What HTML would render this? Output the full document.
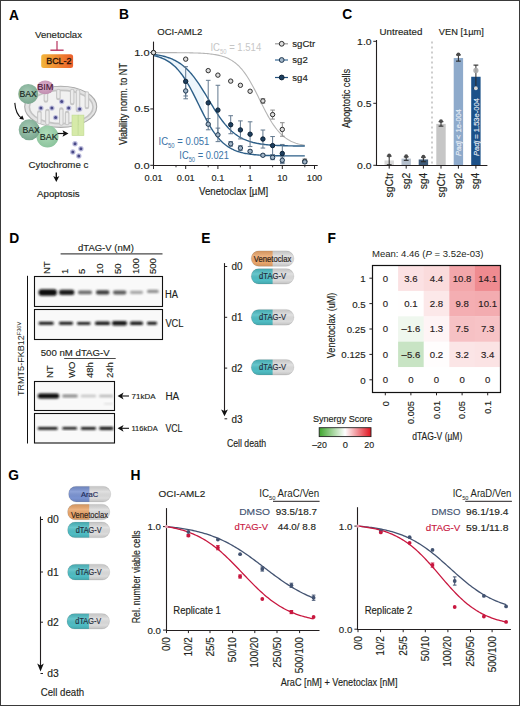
<!DOCTYPE html>
<html><head><meta charset="utf-8"><style>
html,body{margin:0;padding:0;background:#fff;}
body{width:520px;height:706px;overflow:hidden;position:relative;}
svg{position:absolute;left:0;top:0;font-family:"Liberation Sans", sans-serif;}
.frame{position:absolute;left:0;top:0;width:518px;height:704px;border:1px solid #3a3a3a;}
</style></head><body>
<svg width="520" height="706" viewBox="0 0 520 706">
<defs>
<linearGradient id="gBcl" x1="0" y1="0" x2="1" y2="0"><stop offset="0" stop-color="#f3b53a"/><stop offset="1" stop-color="#ec5f2c"/></linearGradient>
<radialGradient id="gBax" cx="0.45" cy="0.4" r="0.6"><stop offset="0" stop-color="#a4c9b4"/><stop offset="1" stop-color="#7ba890"/></radialGradient>
<radialGradient id="gBak" cx="0.45" cy="0.4" r="0.6"><stop offset="0" stop-color="#b0dcba"/><stop offset="1" stop-color="#8cc49d"/></radialGradient>
<radialGradient id="gBim" cx="0.45" cy="0.4" r="0.6"><stop offset="0" stop-color="#dcb0cc"/><stop offset="1" stop-color="#c08eb0"/></radialGradient>
<linearGradient id="gSyn" x1="0" y1="0" x2="1" y2="0"><stop offset="0" stop-color="#3ea52d"/><stop offset="0.5" stop-color="#ffffff"/><stop offset="1" stop-color="#e0121f"/></linearGradient>
<linearGradient id="capShade" x1="0" y1="0" x2="0" y2="1"><stop offset="0" stop-color="#000" stop-opacity="0.10"/><stop offset="0.35" stop-color="#fff" stop-opacity="0.15"/><stop offset="0.75" stop-color="#000" stop-opacity="0"/><stop offset="1" stop-color="#000" stop-opacity="0.12"/></linearGradient>
</defs>
<text x="9.00" y="19.60" font-size="13.8" fill="#000" font-weight="bold">A</text>
<text x="119.00" y="19.00" font-size="13.8" fill="#000" font-weight="bold">B</text>
<text x="342.20" y="19.20" font-size="13.8" fill="#000" font-weight="bold">C</text>
<text x="9.30" y="242.70" font-size="13.8" fill="#000" font-weight="bold">D</text>
<text x="201.30" y="243.00" font-size="13.8" fill="#000" font-weight="bold">E</text>
<text x="327.50" y="242.50" font-size="13.8" fill="#000" font-weight="bold">F</text>
<text x="8.30" y="479.60" font-size="13.8" fill="#000" font-weight="bold">G</text>
<text x="130.60" y="480.00" font-size="13.8" fill="#000" font-weight="bold">H</text>
<text x="35.00" y="37.80" font-size="9.6" fill="#231f20" stroke="#231f20" stroke-width="0.15" textLength="47" lengthAdjust="spacingAndGlyphs">Venetoclax</text>
<line x1="57.00" y1="41.00" x2="57.00" y2="50.20" stroke="#b8325e" stroke-width="1.2"/>
<line x1="50.40" y1="50.20" x2="63.60" y2="50.20" stroke="#b8325e" stroke-width="1.4"/>
<rect x="41.20" y="54.20" width="31.90" height="13.80" fill="url(#gBcl)" rx="2.5"/>
<text x="46.20" y="64.40" font-size="9.7" fill="#2a1408" stroke="#2a1408" stroke-width="0.15" textLength="25.3" lengthAdjust="spacingAndGlyphs" stroke-opacity="1" style="stroke-width:0.35px">BCL-2</text>
<ellipse cx="60.7" cy="106.8" rx="36" ry="20.6" fill="#e3e3e3" stroke="#a9a9a9" stroke-width="1.1"/>
<ellipse cx="61.2" cy="107" rx="31.8" ry="16.6" fill="#f1f1f1" stroke="#c4c4c4" stroke-width="1.6"/>
<line x1="45.90" y1="91.50" x2="45.90" y2="100.50" stroke="#c6c6c6" stroke-width="4.6" stroke-linecap="round"/>
<line x1="45.90" y1="91.50" x2="45.90" y2="99.50" stroke="#ebebeb" stroke-width="2.4" stroke-linecap="round"/>
<line x1="58.40" y1="91.00" x2="58.40" y2="98.00" stroke="#c6c6c6" stroke-width="4.6" stroke-linecap="round"/>
<line x1="58.40" y1="91.00" x2="58.40" y2="97.00" stroke="#ebebeb" stroke-width="2.4" stroke-linecap="round"/>
<line x1="72.20" y1="91.00" x2="72.20" y2="103.00" stroke="#c6c6c6" stroke-width="4.6" stroke-linecap="round"/>
<line x1="72.20" y1="91.00" x2="72.20" y2="102.00" stroke="#ebebeb" stroke-width="2.4" stroke-linecap="round"/>
<line x1="78.00" y1="91.50" x2="78.00" y2="110.00" stroke="#c6c6c6" stroke-width="4.6" stroke-linecap="round"/>
<line x1="78.00" y1="91.50" x2="78.00" y2="109.00" stroke="#ebebeb" stroke-width="2.4" stroke-linecap="round"/>
<line x1="86.90" y1="93.50" x2="86.90" y2="107.00" stroke="#c6c6c6" stroke-width="4.6" stroke-linecap="round"/>
<line x1="86.90" y1="93.50" x2="86.90" y2="106.00" stroke="#ebebeb" stroke-width="2.4" stroke-linecap="round"/>
<line x1="39.40" y1="112.50" x2="39.40" y2="122.00" stroke="#c6c6c6" stroke-width="4.6" stroke-linecap="round"/>
<line x1="39.40" y1="113.50" x2="39.40" y2="122.00" stroke="#ebebeb" stroke-width="2.4" stroke-linecap="round"/>
<line x1="47.40" y1="111.00" x2="47.40" y2="123.00" stroke="#c6c6c6" stroke-width="4.6" stroke-linecap="round"/>
<line x1="47.40" y1="112.00" x2="47.40" y2="123.00" stroke="#ebebeb" stroke-width="2.4" stroke-linecap="round"/>
<line x1="61.30" y1="109.60" x2="61.30" y2="123.50" stroke="#c6c6c6" stroke-width="4.6" stroke-linecap="round"/>
<line x1="61.30" y1="110.60" x2="61.30" y2="123.50" stroke="#ebebeb" stroke-width="2.4" stroke-linecap="round"/>
<line x1="67.10" y1="113.00" x2="67.10" y2="123.00" stroke="#c6c6c6" stroke-width="4.6" stroke-linecap="round"/>
<line x1="67.10" y1="114.00" x2="67.10" y2="123.00" stroke="#ebebeb" stroke-width="2.4" stroke-linecap="round"/>
<circle cx="40.90" cy="108.10" r="2.7" fill="#bcbcdc"/>
<circle cx="40.90" cy="108.10" r="1.5" fill="#4a4a88"/>
<circle cx="51.90" cy="108.10" r="2.7" fill="#bcbcdc"/>
<circle cx="51.90" cy="108.10" r="1.5" fill="#4a4a88"/>
<circle cx="61.70" cy="101.60" r="2.7" fill="#bcbcdc"/>
<circle cx="61.70" cy="101.60" r="1.5" fill="#4a4a88"/>
<circle cx="68.70" cy="108.10" r="2.7" fill="#bcbcdc"/>
<circle cx="68.70" cy="108.10" r="1.5" fill="#4a4a88"/>
<circle cx="79.70" cy="109.10" r="2.7" fill="#bcbcdc"/>
<circle cx="79.70" cy="109.10" r="1.5" fill="#4a4a88"/>
<circle cx="55.60" cy="117.60" r="2.7" fill="#bcbcdc"/>
<circle cx="55.60" cy="117.60" r="1.5" fill="#4a4a88"/>
<circle cx="75.00" cy="143.80" r="2.7" fill="#bcbcdc"/>
<circle cx="75.00" cy="143.80" r="1.5" fill="#4a4a88"/>
<circle cx="80.90" cy="148.70" r="2.7" fill="#bcbcdc"/>
<circle cx="80.90" cy="148.70" r="1.5" fill="#4a4a88"/>
<circle cx="72.80" cy="152.00" r="2.7" fill="#bcbcdc"/>
<circle cx="72.80" cy="152.00" r="1.5" fill="#4a4a88"/>
<circle cx="78.80" cy="156.00" r="2.7" fill="#bcbcdc"/>
<circle cx="78.80" cy="156.00" r="1.5" fill="#4a4a88"/>
<rect x="72.00" y="115.10" width="6.00" height="20.50" fill="#d6eaa9" stroke="#bfd98f" stroke-width="0.6"/>
<rect x="78.30" y="115.10" width="5.60" height="20.50" fill="#d6eaa9" stroke="#bfd98f" stroke-width="0.6"/>
<circle cx="28.20" cy="93.90" r="10" fill="url(#gBax)"/>
<ellipse cx="45.3" cy="87.4" rx="8.4" ry="6.8" fill="url(#gBim)"/>
<text x="19.60" y="97.10" font-size="9.5" fill="#17261d" stroke="#17261d" stroke-width="0.15" textLength="17.3" lengthAdjust="spacingAndGlyphs">BAX</text>
<text x="37.20" y="90.30" font-size="9.5" fill="#4a1838" stroke="#4a1838" stroke-width="0.15" textLength="16.3" lengthAdjust="spacingAndGlyphs">BIM</text>
<circle cx="47.50" cy="136.50" r="11" fill="url(#gBak)"/>
<circle cx="29.20" cy="129.80" r="10.5" fill="url(#gBax)"/>
<text x="22.50" y="132.70" font-size="9.5" fill="#17261d" stroke="#17261d" stroke-width="0.15" textLength="17.3" lengthAdjust="spacingAndGlyphs">BAX</text>
<text x="39.80" y="140.40" font-size="9.5" fill="#17261d" stroke="#17261d" stroke-width="0.15" textLength="17.9" lengthAdjust="spacingAndGlyphs">BAK</text>
<path d="M14.8,102.9 Q15.6,114.5 22,118.5" fill="none" stroke="#111" stroke-width="1.1"/>
<path d="M24,119.8 L19.2,118.8 L22.4,115.6 Z" fill="#111"/>
<line x1="57.50" y1="133.50" x2="64.00" y2="133.50" stroke="#111" stroke-width="1.2"/>
<path d="M68.5,133.5 L62.5,130.2 L63.8,133.5 L62.5,136.8 Z" fill="#111"/>
<text x="28.60" y="167.70" font-size="9.6" fill="#231f20" stroke="#231f20" stroke-width="0.15" textLength="59.7" lengthAdjust="spacingAndGlyphs">Cytochrome c</text>
<line x1="56.30" y1="172.50" x2="56.30" y2="178.00" stroke="#111" stroke-width="1.4"/>
<path d="M56.3,182 L53.2,176 L56.3,177.4 L59.4,176 Z" fill="#111"/>
<text x="37.00" y="196.60" font-size="9.6" fill="#231f20" stroke="#231f20" stroke-width="0.15" textLength="42.7" lengthAdjust="spacingAndGlyphs">Apoptosis</text>
<text x="157.30" y="34.60" font-size="9.5" fill="#231f20" stroke="#231f20" stroke-width="0.15" textLength="45.1" lengthAdjust="spacingAndGlyphs">OCI-AML2</text>
<path d="M153.50,54.40 L154.76,54.57 L156.02,54.75 L157.28,54.94 L158.54,55.16 L159.80,55.39 L161.07,55.65 L162.33,55.93 L163.59,56.23 L164.85,56.55 L166.11,56.91 L167.37,57.30 L168.63,57.72 L169.89,58.17 L171.15,58.66 L172.41,59.19 L173.67,59.77 L174.94,60.39 L176.20,61.06 L177.46,61.77 L178.72,62.55 L179.98,63.38 L181.24,64.27 L182.50,65.22 L183.76,66.24 L185.02,67.32 L186.28,68.48 L187.54,69.70 L188.80,71.00 L190.07,72.37 L191.33,73.81 L192.59,75.32 L193.85,76.91 L195.11,78.57 L196.37,80.29 L197.63,82.08 L198.89,83.93 L200.15,85.84 L201.41,87.79 L202.67,89.79 L203.94,91.83 L203.94,115.13 L202.67,112.65 L201.41,110.14 L200.15,107.60 L198.89,105.04 L197.63,102.48 L196.37,99.93 L195.11,97.40 L193.85,94.90 L192.59,92.44 L191.33,90.04 L190.07,87.71 L188.80,85.45 L187.54,83.27 L186.28,81.17 L185.02,79.17 L183.76,77.26 L182.50,75.44 L181.24,73.73 L179.98,72.11 L178.72,70.59 L177.46,69.16 L176.20,67.83 L174.94,66.59 L173.67,65.43 L172.41,64.36 L171.15,63.36 L169.89,62.44 L168.63,61.59 L167.37,60.81 L166.11,60.09 L164.85,59.43 L163.59,58.83 L162.33,58.27 L161.07,57.76 L159.80,57.30 L158.54,56.87 L157.28,56.48 L156.02,56.13 L154.76,55.81 L153.50,55.51 Z" fill="#eef6fc"/>
<path d="M153.50,52.61 L154.76,52.61 L156.02,52.61 L157.28,52.61 L158.54,52.62 L159.80,52.62 L161.07,52.62 L162.33,52.62 L163.59,52.62 L164.85,52.63 L166.11,52.63 L167.37,52.63 L168.63,52.64 L169.89,52.64 L171.15,52.65 L172.41,52.65 L173.67,52.66 L174.94,52.67 L176.20,52.67 L177.46,52.68 L178.72,52.69 L179.98,52.70 L181.24,52.71 L182.50,52.72 L183.76,52.74 L185.02,52.75 L186.28,52.77 L187.54,52.79 L188.80,52.81 L190.07,52.84 L191.33,52.87 L192.59,52.90 L193.85,52.93 L195.11,52.97 L196.37,53.01 L197.63,53.05 L198.89,53.11 L200.15,53.16 L201.41,53.23 L202.67,53.30 L203.94,53.38 L205.20,53.47 L206.46,53.56 L207.72,53.67 L208.98,53.79 L210.24,53.93 L211.50,54.08 L212.76,54.24 L214.02,54.43 L215.28,54.63 L216.54,54.86 L217.81,55.11 L219.07,55.39 L220.33,55.70 L221.59,56.04 L222.85,56.42 L224.11,56.83 L225.37,57.29 L226.63,57.80 L227.89,58.36 L229.15,58.97 L230.41,59.64 L231.68,60.38 L232.94,61.19 L234.20,62.07 L235.46,63.04 L236.72,64.08 L237.98,65.22 L239.24,66.45 L240.50,67.78 L241.76,69.21 L243.02,70.75 L244.28,72.39 L245.54,74.13 L246.81,75.99 L248.07,77.94 L249.33,80.00 L250.59,82.16 L251.85,84.40 L253.11,86.72 L254.37,89.12 L255.63,91.57 L256.89,94.07 L258.15,96.61 L259.41,99.17 L260.68,101.73 L261.94,104.27 L263.20,106.80 L264.46,109.28 L265.72,111.72 L266.98,114.08 L268.24,116.38 L269.50,118.58 L270.76,120.70 L272.02,122.72 L273.28,124.63 L274.55,126.44 L275.81,128.15 L277.07,129.75 L278.33,131.24 L279.59,132.63 L280.85,133.92 L282.11,135.11 L283.37,136.21 L284.63,137.23 L285.89,138.16 L287.15,139.01 L288.42,139.79 L289.68,140.50 L290.94,141.15 L292.20,141.74 L293.46,142.28 L294.72,142.77 L295.98,143.21 L297.24,143.61 L298.50,143.97 L299.76,144.30 L301.02,144.59 L302.29,144.86 L303.55,145.10 L304.81,145.32" fill="none" stroke="#b5b5b5" stroke-width="1.1"/>
<path d="M153.50,54.40 L154.76,54.57 L156.02,54.75 L157.28,54.94 L158.54,55.16 L159.80,55.39 L161.07,55.65 L162.33,55.93 L163.59,56.23 L164.85,56.55 L166.11,56.91 L167.37,57.30 L168.63,57.72 L169.89,58.17 L171.15,58.66 L172.41,59.19 L173.67,59.77 L174.94,60.39 L176.20,61.06 L177.46,61.77 L178.72,62.55 L179.98,63.38 L181.24,64.27 L182.50,65.22 L183.76,66.24 L185.02,67.32 L186.28,68.48 L187.54,69.70 L188.80,71.00 L190.07,72.37 L191.33,73.81 L192.59,75.32 L193.85,76.91 L195.11,78.57 L196.37,80.29 L197.63,82.08 L198.89,83.93 L200.15,85.84 L201.41,87.79 L202.67,89.79 L203.94,91.83 L205.20,93.90 L206.46,95.99 L207.72,98.09 L208.98,100.20 L210.24,102.30 L211.50,104.40 L212.76,106.47 L214.02,108.51 L215.28,110.52 L216.54,112.49 L217.81,114.41 L219.07,116.27 L220.33,118.07 L221.59,119.81 L222.85,121.48 L224.11,123.08 L225.37,124.61 L226.63,126.07 L227.89,127.46 L229.15,128.77 L230.41,130.01 L231.68,131.18 L232.94,132.28 L234.20,133.31 L235.46,134.27 L236.72,135.18 L237.98,136.02 L239.24,136.81 L240.50,137.54 L241.76,138.21 L243.02,138.85 L244.28,139.43 L245.54,139.97 L246.81,140.47 L248.07,140.93 L249.33,141.36 L250.59,141.75 L251.85,142.11 L253.11,142.45 L254.37,142.75 L255.63,143.04 L256.89,143.30 L258.15,143.53 L259.41,143.75 L260.68,143.95 L261.94,144.14 L263.20,144.31 L264.46,144.46 L265.72,144.61 L266.98,144.74 L268.24,144.86 L269.50,144.96 L270.76,145.06 L272.02,145.16 L273.28,145.24 L274.55,145.32 L275.81,145.39 L277.07,145.45 L278.33,145.51 L279.59,145.57 L280.85,145.61 L282.11,145.66 L283.37,145.70 L284.63,145.74 L285.89,145.77 L287.15,145.81 L288.42,145.83 L289.68,145.86 L290.94,145.88 L292.20,145.91 L293.46,145.93 L294.72,145.95 L295.98,145.96 L297.24,145.98 L298.50,145.99 L299.76,146.00 L301.02,146.02 L302.29,146.03 L303.55,146.04 L304.81,146.05" fill="none" stroke="#2d5f88" stroke-width="1.4"/>
<path d="M153.50,55.51 L154.76,55.81 L156.02,56.13 L157.28,56.48 L158.54,56.87 L159.80,57.30 L161.07,57.76 L162.33,58.27 L163.59,58.83 L164.85,59.43 L166.11,60.09 L167.37,60.81 L168.63,61.59 L169.89,62.44 L171.15,63.36 L172.41,64.36 L173.67,65.43 L174.94,66.59 L176.20,67.83 L177.46,69.16 L178.72,70.59 L179.98,72.11 L181.24,73.73 L182.50,75.44 L183.76,77.26 L185.02,79.17 L186.28,81.17 L187.54,83.27 L188.80,85.45 L190.07,87.71 L191.33,90.04 L192.59,92.44 L193.85,94.90 L195.11,97.40 L196.37,99.93 L197.63,102.48 L198.89,105.04 L200.15,107.60 L201.41,110.14 L202.67,112.65 L203.94,115.13 L205.20,117.55 L206.46,119.91 L207.72,122.20 L208.98,124.42 L210.24,126.55 L211.50,128.59 L212.76,130.54 L214.02,132.39 L215.28,134.14 L216.54,135.80 L217.81,137.36 L219.07,138.83 L220.33,140.20 L221.59,141.47 L222.85,142.67 L224.11,143.77 L225.37,144.80 L226.63,145.75 L227.89,146.62 L229.15,147.43 L230.41,148.17 L231.68,148.86 L232.94,149.48 L234.20,150.06 L235.46,150.59 L236.72,151.07 L237.98,151.51 L239.24,151.91 L240.50,152.28 L241.76,152.61 L243.02,152.92 L244.28,153.20 L245.54,153.45 L246.81,153.68 L248.07,153.89 L249.33,154.08 L250.59,154.25 L251.85,154.41 L253.11,154.55 L254.37,154.68 L255.63,154.80 L256.89,154.91 L258.15,155.01 L259.41,155.09 L260.68,155.17 L261.94,155.25 L263.20,155.31 L264.46,155.37 L265.72,155.43 L266.98,155.47 L268.24,155.52 L269.50,155.56 L270.76,155.60 L272.02,155.63 L273.28,155.66 L274.55,155.69 L275.81,155.71 L277.07,155.73 L278.33,155.75 L279.59,155.77 L280.85,155.79 L282.11,155.80 L283.37,155.82 L284.63,155.83 L285.89,155.84 L287.15,155.85 L288.42,155.86 L289.68,155.87 L290.94,155.87 L292.20,155.88 L293.46,155.89 L294.72,155.89 L295.98,155.90 L297.24,155.90 L298.50,155.91 L299.76,155.91 L301.02,155.91 L302.29,155.92 L303.55,155.92 L304.81,155.92" fill="none" stroke="#2d5f88" stroke-width="1.4"/>
<line x1="153.50" y1="41.60" x2="153.50" y2="166.00" stroke="#231f20" stroke-width="1.1"/>
<line x1="153.00" y1="165.50" x2="317.70" y2="165.50" stroke="#231f20" stroke-width="1.1"/>
<line x1="150.30" y1="52.60" x2="153.90" y2="52.60" stroke="#231f20" stroke-width="1"/>
<text x="149.60" y="56.00" font-size="9.5" fill="#231f20" stroke="#231f20" stroke-width="0.15" text-anchor="end" textLength="15.4" lengthAdjust="spacingAndGlyphs">1.0</text>
<line x1="150.30" y1="108.95" x2="153.90" y2="108.95" stroke="#231f20" stroke-width="1"/>
<text x="149.60" y="112.35" font-size="9.5" fill="#231f20" stroke="#231f20" stroke-width="0.15" text-anchor="end" textLength="15.4" lengthAdjust="spacingAndGlyphs">0.5</text>
<line x1="150.30" y1="165.30" x2="153.90" y2="165.30" stroke="#231f20" stroke-width="1"/>
<text x="149.60" y="168.70" font-size="9.5" fill="#231f20" stroke="#231f20" stroke-width="0.15" text-anchor="end" textLength="15.4" lengthAdjust="spacingAndGlyphs">0.0</text>
<line x1="153.50" y1="165.30" x2="153.50" y2="169.00" stroke="#231f20" stroke-width="1"/>
<text x="153.50" y="180.60" font-size="9.2" fill="#231f20" stroke="#231f20" stroke-width="0.15" text-anchor="middle">0.01</text>
<line x1="176.01" y1="165.30" x2="176.01" y2="167.30" stroke="#231f20" stroke-width="0.9"/>
<line x1="185.70" y1="165.30" x2="185.70" y2="169.00" stroke="#231f20" stroke-width="1"/>
<text x="185.70" y="180.60" font-size="9.2" fill="#231f20" stroke="#231f20" stroke-width="0.15" text-anchor="middle">0.01</text>
<line x1="208.21" y1="165.30" x2="208.21" y2="167.30" stroke="#231f20" stroke-width="0.9"/>
<line x1="217.90" y1="165.30" x2="217.90" y2="169.00" stroke="#231f20" stroke-width="1"/>
<text x="217.90" y="180.60" font-size="9.2" fill="#231f20" stroke="#231f20" stroke-width="0.15" text-anchor="middle">0.1</text>
<line x1="240.41" y1="165.30" x2="240.41" y2="167.30" stroke="#231f20" stroke-width="0.9"/>
<line x1="250.10" y1="165.30" x2="250.10" y2="169.00" stroke="#231f20" stroke-width="1"/>
<text x="250.10" y="180.60" font-size="9.2" fill="#231f20" stroke="#231f20" stroke-width="0.15" text-anchor="middle">1</text>
<line x1="272.61" y1="165.30" x2="272.61" y2="167.30" stroke="#231f20" stroke-width="0.9"/>
<line x1="282.30" y1="165.30" x2="282.30" y2="169.00" stroke="#231f20" stroke-width="1"/>
<text x="282.30" y="180.60" font-size="9.2" fill="#231f20" stroke="#231f20" stroke-width="0.15" text-anchor="middle">10</text>
<line x1="304.81" y1="165.30" x2="304.81" y2="167.30" stroke="#231f20" stroke-width="0.9"/>
<line x1="314.50" y1="165.30" x2="314.50" y2="169.00" stroke="#231f20" stroke-width="1"/>
<text x="314.50" y="180.60" font-size="9.2" fill="#231f20" stroke="#231f20" stroke-width="0.15" text-anchor="middle">100</text>
<text x="199.00" y="195.20" font-size="10.2" fill="#231f20" stroke="#231f20" stroke-width="0.15" textLength="69.2" lengthAdjust="spacingAndGlyphs">Venetoclax [µM]</text>
<text x="127.40" y="145.00" font-size="10.2" fill="#231f20" stroke="#231f20" stroke-width="0.15" textLength="82" lengthAdjust="spacingAndGlyphs" transform="rotate(-90 127.40 145.00)">Viability norm. to NT</text>
<line x1="185.70" y1="66.69" x2="185.70" y2="95.99" stroke="#62788e" stroke-width="1"/>
<line x1="183.40" y1="66.69" x2="188.00" y2="66.69" stroke="#62788e" stroke-width="1"/>
<line x1="183.40" y1="95.99" x2="188.00" y2="95.99" stroke="#62788e" stroke-width="1"/>
<line x1="185.70" y1="83.03" x2="185.70" y2="98.81" stroke="#62788e" stroke-width="1"/>
<line x1="183.40" y1="83.03" x2="188.00" y2="83.03" stroke="#62788e" stroke-width="1"/>
<line x1="183.40" y1="98.81" x2="188.00" y2="98.81" stroke="#62788e" stroke-width="1"/>
<line x1="208.21" y1="80.32" x2="208.21" y2="125.40" stroke="#62788e" stroke-width="1"/>
<line x1="205.91" y1="80.32" x2="210.51" y2="80.32" stroke="#62788e" stroke-width="1"/>
<line x1="205.91" y1="125.40" x2="210.51" y2="125.40" stroke="#62788e" stroke-width="1"/>
<line x1="208.21" y1="118.53" x2="208.21" y2="129.80" stroke="#62788e" stroke-width="1"/>
<line x1="205.91" y1="118.53" x2="210.51" y2="118.53" stroke="#62788e" stroke-width="1"/>
<line x1="205.91" y1="129.80" x2="210.51" y2="129.80" stroke="#62788e" stroke-width="1"/>
<line x1="217.90" y1="85.28" x2="217.90" y2="134.87" stroke="#62788e" stroke-width="1"/>
<line x1="215.60" y1="85.28" x2="220.20" y2="85.28" stroke="#62788e" stroke-width="1"/>
<line x1="215.60" y1="134.87" x2="220.20" y2="134.87" stroke="#62788e" stroke-width="1"/>
<line x1="217.90" y1="128.11" x2="217.90" y2="141.63" stroke="#62788e" stroke-width="1"/>
<line x1="215.60" y1="128.11" x2="220.20" y2="128.11" stroke="#62788e" stroke-width="1"/>
<line x1="215.60" y1="141.63" x2="220.20" y2="141.63" stroke="#62788e" stroke-width="1"/>
<line x1="230.71" y1="115.71" x2="230.71" y2="133.74" stroke="#62788e" stroke-width="1"/>
<line x1="228.41" y1="115.71" x2="233.01" y2="115.71" stroke="#62788e" stroke-width="1"/>
<line x1="228.41" y1="133.74" x2="233.01" y2="133.74" stroke="#62788e" stroke-width="1"/>
<line x1="230.71" y1="141.63" x2="230.71" y2="146.14" stroke="#62788e" stroke-width="1"/>
<line x1="228.41" y1="141.63" x2="233.01" y2="141.63" stroke="#62788e" stroke-width="1"/>
<line x1="228.41" y1="146.14" x2="233.01" y2="146.14" stroke="#62788e" stroke-width="1"/>
<line x1="240.41" y1="120.90" x2="240.41" y2="138.93" stroke="#62788e" stroke-width="1"/>
<line x1="238.11" y1="120.90" x2="242.71" y2="120.90" stroke="#62788e" stroke-width="1"/>
<line x1="238.11" y1="138.93" x2="242.71" y2="138.93" stroke="#62788e" stroke-width="1"/>
<line x1="240.41" y1="145.80" x2="240.41" y2="150.31" stroke="#62788e" stroke-width="1"/>
<line x1="238.11" y1="145.80" x2="242.71" y2="145.80" stroke="#62788e" stroke-width="1"/>
<line x1="238.11" y1="150.31" x2="242.71" y2="150.31" stroke="#62788e" stroke-width="1"/>
<line x1="250.10" y1="121.80" x2="250.10" y2="146.59" stroke="#62788e" stroke-width="1"/>
<line x1="247.80" y1="121.80" x2="252.40" y2="121.80" stroke="#62788e" stroke-width="1"/>
<line x1="247.80" y1="146.59" x2="252.40" y2="146.59" stroke="#62788e" stroke-width="1"/>
<line x1="250.10" y1="150.20" x2="250.10" y2="152.45" stroke="#62788e" stroke-width="1"/>
<line x1="247.80" y1="150.20" x2="252.40" y2="150.20" stroke="#62788e" stroke-width="1"/>
<line x1="247.80" y1="152.45" x2="252.40" y2="152.45" stroke="#62788e" stroke-width="1"/>
<line x1="262.91" y1="98.69" x2="262.91" y2="103.20" stroke="#8a8a8a" stroke-width="1"/>
<line x1="260.61" y1="98.69" x2="265.21" y2="98.69" stroke="#8a8a8a" stroke-width="1"/>
<line x1="260.61" y1="103.20" x2="265.21" y2="103.20" stroke="#8a8a8a" stroke-width="1"/>
<line x1="262.91" y1="130.02" x2="262.91" y2="148.06" stroke="#62788e" stroke-width="1"/>
<line x1="260.61" y1="130.02" x2="265.21" y2="130.02" stroke="#62788e" stroke-width="1"/>
<line x1="260.61" y1="148.06" x2="265.21" y2="148.06" stroke="#62788e" stroke-width="1"/>
<line x1="262.91" y1="154.14" x2="262.91" y2="156.40" stroke="#62788e" stroke-width="1"/>
<line x1="260.61" y1="154.14" x2="265.21" y2="154.14" stroke="#62788e" stroke-width="1"/>
<line x1="260.61" y1="156.40" x2="265.21" y2="156.40" stroke="#62788e" stroke-width="1"/>
<line x1="272.61" y1="110.08" x2="272.61" y2="119.09" stroke="#8a8a8a" stroke-width="1"/>
<line x1="270.31" y1="110.08" x2="274.91" y2="110.08" stroke="#8a8a8a" stroke-width="1"/>
<line x1="270.31" y1="119.09" x2="274.91" y2="119.09" stroke="#8a8a8a" stroke-width="1"/>
<line x1="272.61" y1="136.56" x2="272.61" y2="154.59" stroke="#62788e" stroke-width="1"/>
<line x1="270.31" y1="136.56" x2="274.91" y2="136.56" stroke="#62788e" stroke-width="1"/>
<line x1="270.31" y1="154.59" x2="274.91" y2="154.59" stroke="#62788e" stroke-width="1"/>
<line x1="272.61" y1="155.16" x2="272.61" y2="159.66" stroke="#62788e" stroke-width="1"/>
<line x1="270.31" y1="155.16" x2="274.91" y2="155.16" stroke="#62788e" stroke-width="1"/>
<line x1="270.31" y1="159.66" x2="274.91" y2="159.66" stroke="#62788e" stroke-width="1"/>
<line x1="282.30" y1="122.70" x2="282.30" y2="136.22" stroke="#8a8a8a" stroke-width="1"/>
<line x1="280.00" y1="122.70" x2="284.60" y2="122.70" stroke="#8a8a8a" stroke-width="1"/>
<line x1="280.00" y1="136.22" x2="284.60" y2="136.22" stroke="#8a8a8a" stroke-width="1"/>
<line x1="282.30" y1="144.45" x2="282.30" y2="162.48" stroke="#62788e" stroke-width="1"/>
<line x1="280.00" y1="144.45" x2="284.60" y2="144.45" stroke="#62788e" stroke-width="1"/>
<line x1="280.00" y1="162.48" x2="284.60" y2="162.48" stroke="#62788e" stroke-width="1"/>
<line x1="282.30" y1="156.85" x2="282.30" y2="163.61" stroke="#62788e" stroke-width="1"/>
<line x1="280.00" y1="156.85" x2="284.60" y2="156.85" stroke="#62788e" stroke-width="1"/>
<line x1="280.00" y1="163.61" x2="284.60" y2="163.61" stroke="#62788e" stroke-width="1"/>
<line x1="304.81" y1="158.99" x2="304.81" y2="163.50" stroke="#8a8a8a" stroke-width="1"/>
<line x1="302.51" y1="158.99" x2="307.11" y2="158.99" stroke="#8a8a8a" stroke-width="1"/>
<line x1="302.51" y1="163.50" x2="307.11" y2="163.50" stroke="#8a8a8a" stroke-width="1"/>
<line x1="304.81" y1="160.79" x2="304.81" y2="163.05" stroke="#62788e" stroke-width="1"/>
<line x1="302.51" y1="160.79" x2="307.11" y2="160.79" stroke="#62788e" stroke-width="1"/>
<line x1="302.51" y1="163.05" x2="307.11" y2="163.05" stroke="#62788e" stroke-width="1"/>
<circle cx="153.50" cy="52.60" r="2.2" fill="#dedede" stroke="#2e2e2e" stroke-width="1"/>
<circle cx="185.70" cy="59.14" r="2.2" fill="#dedede" stroke="#2e2e2e" stroke-width="1"/>
<circle cx="208.21" cy="70.63" r="2.2" fill="#dedede" stroke="#2e2e2e" stroke-width="1"/>
<circle cx="217.90" cy="75.14" r="2.2" fill="#dedede" stroke="#2e2e2e" stroke-width="1"/>
<circle cx="230.71" cy="81.11" r="2.2" fill="#dedede" stroke="#2e2e2e" stroke-width="1"/>
<circle cx="240.41" cy="85.28" r="2.2" fill="#dedede" stroke="#2e2e2e" stroke-width="1"/>
<circle cx="250.10" cy="91.26" r="2.2" fill="#dedede" stroke="#2e2e2e" stroke-width="1"/>
<circle cx="262.91" cy="100.95" r="2.2" fill="#dedede" stroke="#2e2e2e" stroke-width="1"/>
<circle cx="272.61" cy="114.59" r="2.2" fill="#dedede" stroke="#2e2e2e" stroke-width="1"/>
<circle cx="282.30" cy="129.46" r="2.2" fill="#dedede" stroke="#2e2e2e" stroke-width="1"/>
<circle cx="304.81" cy="161.24" r="2.2" fill="#dedede" stroke="#2e2e2e" stroke-width="1"/>
<circle cx="185.70" cy="90.92" r="2.2" fill="#a3b6c8" stroke="#1f3850" stroke-width="1"/>
<circle cx="185.70" cy="81.34" r="2.2" fill="#1d3f5f" stroke="#0e2236" stroke-width="1"/>
<circle cx="208.21" cy="124.16" r="2.2" fill="#a3b6c8" stroke="#1f3850" stroke-width="1"/>
<circle cx="208.21" cy="102.86" r="2.2" fill="#1d3f5f" stroke="#0e2236" stroke-width="1"/>
<circle cx="217.90" cy="134.87" r="2.2" fill="#a3b6c8" stroke="#1f3850" stroke-width="1"/>
<circle cx="217.90" cy="110.08" r="2.2" fill="#1d3f5f" stroke="#0e2236" stroke-width="1"/>
<circle cx="230.71" cy="143.89" r="2.2" fill="#a3b6c8" stroke="#1f3850" stroke-width="1"/>
<circle cx="230.71" cy="124.73" r="2.2" fill="#1d3f5f" stroke="#0e2236" stroke-width="1"/>
<circle cx="240.41" cy="148.06" r="2.2" fill="#a3b6c8" stroke="#1f3850" stroke-width="1"/>
<circle cx="240.41" cy="129.91" r="2.2" fill="#1d3f5f" stroke="#0e2236" stroke-width="1"/>
<circle cx="250.10" cy="151.33" r="2.2" fill="#a3b6c8" stroke="#1f3850" stroke-width="1"/>
<circle cx="250.10" cy="134.19" r="2.2" fill="#1d3f5f" stroke="#0e2236" stroke-width="1"/>
<circle cx="262.91" cy="155.27" r="2.2" fill="#a3b6c8" stroke="#1f3850" stroke-width="1"/>
<circle cx="262.91" cy="139.04" r="2.2" fill="#1d3f5f" stroke="#0e2236" stroke-width="1"/>
<circle cx="272.61" cy="157.41" r="2.2" fill="#a3b6c8" stroke="#1f3850" stroke-width="1"/>
<circle cx="272.61" cy="145.58" r="2.2" fill="#1d3f5f" stroke="#0e2236" stroke-width="1"/>
<circle cx="282.30" cy="160.23" r="2.2" fill="#a3b6c8" stroke="#1f3850" stroke-width="1"/>
<circle cx="282.30" cy="153.47" r="2.2" fill="#1d3f5f" stroke="#0e2236" stroke-width="1"/>
<circle cx="304.81" cy="161.92" r="2.2" fill="#a3b6c8" stroke="#1f3850" stroke-width="1"/>
<circle cx="153.50" cy="52.60" r="2.2" fill="#dedede" stroke="#2e2e2e" stroke-width="1"/>
<line x1="275.00" y1="43.80" x2="288.00" y2="43.80" stroke="#9a9a9a" stroke-width="1.2"/>
<circle cx="281.70" cy="43.80" r="2.4" fill="#dedede" stroke="#2e2e2e" stroke-width="1"/>
<text x="292.30" y="47.20" font-size="9.6" fill="#231f20" stroke="#231f20" stroke-width="0.15">sgCtr</text>
<line x1="275.00" y1="60.00" x2="288.00" y2="60.00" stroke="#3a6a95" stroke-width="1.2"/>
<circle cx="281.70" cy="60.00" r="2.4" fill="#a3b6c8" stroke="#1f3850" stroke-width="1"/>
<text x="292.30" y="63.40" font-size="9.6" fill="#231f20" stroke="#231f20" stroke-width="0.15">sg2</text>
<line x1="275.00" y1="77.50" x2="288.00" y2="77.50" stroke="#24527e" stroke-width="1.2"/>
<circle cx="281.70" cy="77.50" r="2.4" fill="#1d3f5f" stroke="#0e2236" stroke-width="1"/>
<text x="292.30" y="80.90" font-size="9.6" fill="#231f20" stroke="#231f20" stroke-width="0.15">sg4</text>
<text x="210.4" y="51" font-size="10.3" fill="#c6c6c6" textLength="50.8" lengthAdjust="spacingAndGlyphs">IC<tspan font-size="6.4" dy="2.5">50</tspan><tspan dy="-2.5"> = 1.514</tspan></text>
<text x="158.5" y="145.2" font-size="10.3" fill="#3a73a6" textLength="50.8" lengthAdjust="spacingAndGlyphs">IC<tspan font-size="6.4" dy="2.5">50</tspan><tspan dy="-2.5"> = 0.051</tspan></text>
<text x="179.3" y="159.1" font-size="10.3" fill="#3a73a6" textLength="49.7" lengthAdjust="spacingAndGlyphs">IC<tspan font-size="6.4" dy="2.5">50</tspan><tspan dy="-2.5"> = 0.021</tspan></text>
<text x="379.60" y="34.60" font-size="9.6" fill="#231f20" stroke="#231f20" stroke-width="0.15" textLength="42.7" lengthAdjust="spacingAndGlyphs">Untreated</text>
<text x="438.80" y="35.00" font-size="9.5" fill="#231f20" stroke="#231f20" stroke-width="0.15" textLength="45" lengthAdjust="spacingAndGlyphs">VEN [1µm]</text>
<line x1="432.00" y1="41.50" x2="432.00" y2="165.00" stroke="#a5a5a5" stroke-width="1.1" stroke-dasharray="2 3"/>
<rect x="384.50" y="160.46" width="9.40" height="4.84" fill="#d9d9d9"/>
<rect x="401.50" y="158.60" width="9.40" height="6.70" fill="#b3becb"/>
<rect x="418.70" y="159.47" width="9.40" height="5.83" fill="#3f5b79"/>
<rect x="436.30" y="123.88" width="9.40" height="41.42" fill="#c6c6c6"/>
<rect x="453.70" y="58.04" width="9.40" height="107.26" fill="#8eaacb"/>
<rect x="471.20" y="76.76" width="9.40" height="88.54" fill="#1c5189"/>
<line x1="389.20" y1="156.12" x2="389.20" y2="164.80" stroke="#2a2a2a" stroke-width="1"/>
<line x1="386.80" y1="156.12" x2="391.60" y2="156.12" stroke="#2a2a2a" stroke-width="1.1"/>
<line x1="386.80" y1="164.80" x2="391.60" y2="164.80" stroke="#2a2a2a" stroke-width="1.1"/>
<circle cx="389.20" cy="155.52" r="1.9" fill="#4a4a4a"/>
<line x1="406.20" y1="156.87" x2="406.20" y2="160.34" stroke="#2a2a2a" stroke-width="1"/>
<line x1="403.80" y1="156.87" x2="408.60" y2="156.87" stroke="#2a2a2a" stroke-width="1.1"/>
<line x1="403.80" y1="160.34" x2="408.60" y2="160.34" stroke="#2a2a2a" stroke-width="1.1"/>
<circle cx="406.20" cy="156.27" r="1.9" fill="#4a4a4a"/>
<line x1="423.40" y1="157.24" x2="423.40" y2="161.70" stroke="#2a2a2a" stroke-width="1"/>
<line x1="421.00" y1="157.24" x2="425.80" y2="157.24" stroke="#2a2a2a" stroke-width="1.1"/>
<line x1="421.00" y1="161.70" x2="425.80" y2="161.70" stroke="#2a2a2a" stroke-width="1.1"/>
<circle cx="423.40" cy="156.64" r="1.9" fill="#4a4a4a"/>
<line x1="441.00" y1="121.65" x2="441.00" y2="126.12" stroke="#2a2a2a" stroke-width="1"/>
<line x1="438.60" y1="121.65" x2="443.40" y2="121.65" stroke="#2a2a2a" stroke-width="1.1"/>
<line x1="438.60" y1="126.12" x2="443.40" y2="126.12" stroke="#2a2a2a" stroke-width="1.1"/>
<circle cx="441.00" cy="121.05" r="1.9" fill="#4a4a4a"/>
<line x1="458.40" y1="54.94" x2="458.40" y2="61.14" stroke="#2a2a2a" stroke-width="1"/>
<line x1="456.00" y1="54.94" x2="460.80" y2="54.94" stroke="#2a2a2a" stroke-width="1.1"/>
<line x1="456.00" y1="61.14" x2="460.80" y2="61.14" stroke="#2a2a2a" stroke-width="1.1"/>
<circle cx="458.40" cy="54.34" r="1.9" fill="#4a4a4a"/>
<line x1="475.90" y1="65.11" x2="475.90" y2="88.42" stroke="#2a2a2a" stroke-width="1"/>
<line x1="473.50" y1="65.11" x2="478.30" y2="65.11" stroke="#2a2a2a" stroke-width="1.1"/>
<line x1="473.50" y1="88.42" x2="478.30" y2="88.42" stroke="#2a2a2a" stroke-width="1.1"/>
<circle cx="475.90" cy="88.26" r="1.9" fill="#d8d8d8"/>
<circle cx="475.90" cy="70.46" r="2.6" fill="#a8a8a8" opacity="0.9"/>
<line x1="376.50" y1="40.00" x2="376.50" y2="166.00" stroke="#231f20" stroke-width="1.1"/>
<line x1="376.00" y1="165.50" x2="487.40" y2="165.50" stroke="#231f20" stroke-width="1.1"/>
<line x1="373.30" y1="41.30" x2="377.00" y2="41.30" stroke="#231f20" stroke-width="1"/>
<text x="371.60" y="44.70" font-size="9.5" fill="#231f20" stroke="#231f20" stroke-width="0.15" text-anchor="end" textLength="14.5" lengthAdjust="spacingAndGlyphs">1.0</text>
<line x1="373.30" y1="103.30" x2="377.00" y2="103.30" stroke="#231f20" stroke-width="1"/>
<text x="371.60" y="106.70" font-size="9.5" fill="#231f20" stroke="#231f20" stroke-width="0.15" text-anchor="end" textLength="14.5" lengthAdjust="spacingAndGlyphs">0.5</text>
<line x1="373.30" y1="165.30" x2="377.00" y2="165.30" stroke="#231f20" stroke-width="1"/>
<text x="371.60" y="168.70" font-size="9.5" fill="#231f20" stroke="#231f20" stroke-width="0.15" text-anchor="end" textLength="14.5" lengthAdjust="spacingAndGlyphs">0.0</text>
<line x1="389.20" y1="165.30" x2="389.20" y2="168.60" stroke="#231f20" stroke-width="1"/>
<text x="392.80" y="172.60" font-size="10.4" fill="#231f20" stroke="#231f20" stroke-width="0.15" text-anchor="end" transform="rotate(-90 392.80 172.60)">sgCtr</text>
<line x1="406.20" y1="165.30" x2="406.20" y2="168.60" stroke="#231f20" stroke-width="1"/>
<text x="409.80" y="172.60" font-size="10.4" fill="#231f20" stroke="#231f20" stroke-width="0.15" text-anchor="end" transform="rotate(-90 409.80 172.60)">sg2</text>
<line x1="423.40" y1="165.30" x2="423.40" y2="168.60" stroke="#231f20" stroke-width="1"/>
<text x="427.00" y="172.60" font-size="10.4" fill="#231f20" stroke="#231f20" stroke-width="0.15" text-anchor="end" transform="rotate(-90 427.00 172.60)">sg4</text>
<line x1="441.00" y1="165.30" x2="441.00" y2="168.60" stroke="#231f20" stroke-width="1"/>
<text x="444.60" y="172.60" font-size="10.4" fill="#231f20" stroke="#231f20" stroke-width="0.15" text-anchor="end" transform="rotate(-90 444.60 172.60)">sgCtr</text>
<line x1="458.40" y1="165.30" x2="458.40" y2="168.60" stroke="#231f20" stroke-width="1"/>
<text x="462.00" y="172.60" font-size="10.4" fill="#231f20" stroke="#231f20" stroke-width="0.15" text-anchor="end" transform="rotate(-90 462.00 172.60)">sg2</text>
<line x1="475.90" y1="165.30" x2="475.90" y2="168.60" stroke="#231f20" stroke-width="1"/>
<text x="479.50" y="172.60" font-size="10.4" fill="#231f20" stroke="#231f20" stroke-width="0.15" text-anchor="end" transform="rotate(-90 479.50 172.60)">sg4</text>
<text x="349.90" y="128.00" font-size="10.2" fill="#231f20" stroke="#231f20" stroke-width="0.15" textLength="59.2" lengthAdjust="spacingAndGlyphs" transform="rotate(-90 349.90 128.00)">Apoptotic cells</text>
<text x="461.30" y="156.00" font-size="7.3" fill="#e6edf5" stroke="#e6edf5" stroke-width="0.15" textLength="47" lengthAdjust="spacingAndGlyphs" transform="rotate(-90 461.30 156.00)"><tspan font-style="italic">Padj</tspan> &lt; 1e-004</text>
<text x="478.80" y="156.00" font-size="7.3" fill="#e6edf5" stroke="#e6edf5" stroke-width="0.15" textLength="58" lengthAdjust="spacingAndGlyphs" transform="rotate(-90 478.80 156.00)"><tspan font-style="italic">Padj</tspan> = 1.53e-004</text>
<filter id="blur1" x="-20%" y="-50%" width="140%" height="200%"><feGaussianBlur stdDeviation="0.85"/></filter>
<text x="78.00" y="251.30" font-size="9.6" fill="#231f20" stroke="#231f20" stroke-width="0.15" textLength="55.8" lengthAdjust="spacingAndGlyphs">dTAG-V (nM)</text>
<line x1="60.60" y1="253.90" x2="162.50" y2="253.90" stroke="#4a4a4a" stroke-width="1.1"/>
<text x="49.60" y="274.00" font-size="9.5" fill="#231f20" stroke="#231f20" stroke-width="0.15" transform="rotate(-90 49.60 274.00)">NT</text>
<text x="67.60" y="274.00" font-size="9.5" fill="#231f20" stroke="#231f20" stroke-width="0.15" transform="rotate(-90 67.60 274.00)">1</text>
<text x="85.40" y="274.00" font-size="9.5" fill="#231f20" stroke="#231f20" stroke-width="0.15" transform="rotate(-90 85.40 274.00)">5</text>
<text x="103.40" y="274.00" font-size="9.5" fill="#231f20" stroke="#231f20" stroke-width="0.15" transform="rotate(-90 103.40 274.00)">10</text>
<text x="120.90" y="274.00" font-size="9.5" fill="#231f20" stroke="#231f20" stroke-width="0.15" transform="rotate(-90 120.90 274.00)">50</text>
<text x="138.90" y="274.00" font-size="9.5" fill="#231f20" stroke="#231f20" stroke-width="0.15" transform="rotate(-90 138.90 274.00)">100</text>
<text x="156.40" y="274.00" font-size="9.5" fill="#231f20" stroke="#231f20" stroke-width="0.15" transform="rotate(-90 156.40 274.00)">500</text>
<rect x="34.50" y="276.50" width="128.00" height="30.00" fill="#f9f9f9" stroke="#111" stroke-width="1.1"/>
<rect x="34.50" y="309.50" width="128.00" height="30.00" fill="#f9f9f9" stroke="#111" stroke-width="1.1"/>
<rect x="38.60" y="289.15" width="18.30" height="6.50" rx="2.93" fill="#0a0a0a" opacity="1" filter="url(#blur1)"/>
<rect x="59.00" y="289.70" width="15.40" height="5.40" rx="2.43" fill="#1c1c1c" opacity="1" filter="url(#blur1)"/>
<rect x="78.00" y="290.60" width="14.00" height="3.60" rx="1.62" fill="#6a6a6a" opacity="1" filter="url(#blur1)"/>
<rect x="96.00" y="290.30" width="13.40" height="4.20" rx="1.89" fill="#3c3c3c" opacity="1" filter="url(#blur1)"/>
<rect x="113.00" y="290.40" width="13.40" height="4.00" rx="1.80" fill="#5a5a5a" opacity="1" filter="url(#blur1)"/>
<rect x="130.00" y="290.80" width="13.00" height="3.20" rx="1.44" fill="#a5a5a5" opacity="1" filter="url(#blur1)"/>
<rect x="147.00" y="289.70" width="11.70" height="3.40" rx="1.53" fill="#8e8e8e" opacity="1" filter="url(#blur1)"/>
<rect x="38.60" y="321.85" width="15.10" height="2.90" rx="1.30" fill="#141414" opacity="1" filter="url(#blur1)"/>
<rect x="59.00" y="321.85" width="14.00" height="2.90" rx="1.30" fill="#141414" opacity="1" filter="url(#blur1)"/>
<rect x="77.00" y="321.90" width="13.50" height="2.80" rx="1.26" fill="#141414" opacity="1" filter="url(#blur1)"/>
<rect x="95.00" y="321.60" width="15.00" height="3.40" rx="1.53" fill="#141414" opacity="1" filter="url(#blur1)"/>
<rect x="112.00" y="321.10" width="15.00" height="4.40" rx="1.98" fill="#141414" opacity="1" filter="url(#blur1)"/>
<rect x="130.00" y="321.60" width="13.00" height="3.40" rx="1.53" fill="#141414" opacity="1" filter="url(#blur1)"/>
<rect x="147.00" y="321.80" width="10.00" height="3.00" rx="1.35" fill="#141414" opacity="1" filter="url(#blur1)"/>
<text x="165.00" y="298.00" font-size="10" fill="#231f20" stroke="#231f20" stroke-width="0.15" textLength="13" lengthAdjust="spacingAndGlyphs">HA</text>
<text x="165.40" y="326.80" font-size="10" fill="#231f20" stroke="#231f20" stroke-width="0.15" textLength="18" lengthAdjust="spacingAndGlyphs">VCL</text>
<text x="40.70" y="355.70" font-size="9.6" fill="#231f20" stroke="#231f20" stroke-width="0.15" textLength="69" lengthAdjust="spacingAndGlyphs">500 nM dTAG-V</text>
<line x1="64.20" y1="358.50" x2="115.70" y2="358.50" stroke="#4a4a4a" stroke-width="1.1"/>
<text x="53.10" y="378.00" font-size="9.5" fill="#231f20" stroke="#231f20" stroke-width="0.15" transform="rotate(-90 53.10 378.00)">NT</text>
<text x="74.60" y="378.00" font-size="9.5" fill="#231f20" stroke="#231f20" stroke-width="0.15" transform="rotate(-90 74.60 378.00)">WO</text>
<text x="93.00" y="378.00" font-size="9.5" fill="#231f20" stroke="#231f20" stroke-width="0.15" transform="rotate(-90 93.00 378.00)">48h</text>
<text x="112.60" y="378.00" font-size="9.5" fill="#231f20" stroke="#231f20" stroke-width="0.15" transform="rotate(-90 112.60 378.00)">24h</text>
<rect x="34.50" y="381.50" width="80.00" height="29.00" fill="#f9f9f9" stroke="#111" stroke-width="1.1"/>
<rect x="34.50" y="413.50" width="80.00" height="29.50" fill="#f9f9f9" stroke="#111" stroke-width="1.1"/>
<rect x="37.70" y="393.40" width="21.50" height="5.20" rx="2.34" fill="#0c0c0c" opacity="1" filter="url(#blur1)"/>
<rect x="62.30" y="394.50" width="15.40" height="3.00" rx="1.35" fill="#8a8a8a" opacity="1" filter="url(#blur1)"/>
<rect x="80.80" y="394.70" width="15.20" height="2.60" rx="1.17" fill="#c4c4c4" opacity="1" filter="url(#blur1)"/>
<rect x="99.20" y="394.70" width="13.80" height="2.60" rx="1.17" fill="#b8b8b8" opacity="1" filter="url(#blur1)"/>
<rect x="104.00" y="402.90" width="9.00" height="1.60" rx="0.72" fill="#dcdcdc" opacity="1" filter="url(#blur1)"/>
<rect x="37.70" y="426.90" width="20.00" height="2.80" rx="1.26" fill="#161616" opacity="1" filter="url(#blur1)"/>
<rect x="62.30" y="427.00" width="14.70" height="2.60" rx="1.17" fill="#161616" opacity="1" filter="url(#blur1)"/>
<rect x="80.80" y="426.90" width="15.20" height="2.80" rx="1.26" fill="#161616" opacity="1" filter="url(#blur1)"/>
<rect x="99.20" y="426.65" width="14.30" height="3.30" rx="1.48" fill="#161616" opacity="1" filter="url(#blur1)"/>
<line x1="120.00" y1="396.00" x2="129.00" y2="396.00" stroke="#111" stroke-width="1.1"/>
<path d="M117.6,396 L123.6,392.6 L122,396 L123.6,399.4 Z" fill="#111"/>
<line x1="120.00" y1="428.30" x2="129.00" y2="428.30" stroke="#111" stroke-width="1.1"/>
<path d="M117.6,428.3 L123.6,424.90000000000003 L122,428.3 L123.6,431.7 Z" fill="#111"/>
<text x="131.50" y="398.80" font-size="7.6" fill="#231f20" stroke="#231f20" stroke-width="0.15" textLength="24" lengthAdjust="spacingAndGlyphs">71kDA</text>
<text x="131.50" y="431.10" font-size="7.6" fill="#231f20" stroke="#231f20" stroke-width="0.15" textLength="26.2" lengthAdjust="spacingAndGlyphs">116kDA</text>
<text x="165.40" y="399.60" font-size="10" fill="#231f20" stroke="#231f20" stroke-width="0.15" textLength="13.8" lengthAdjust="spacingAndGlyphs">HA</text>
<text x="165.40" y="431.90" font-size="10" fill="#231f20" stroke="#231f20" stroke-width="0.15" textLength="17" lengthAdjust="spacingAndGlyphs">VCL</text>
<line x1="27.50" y1="275.80" x2="27.50" y2="443.50" stroke="#111" stroke-width="1"/>
<text x="24.3" y="396" font-size="9.1" fill="#231f20" transform="rotate(-90 24.3 396)"><tspan textLength="60.8" lengthAdjust="spacingAndGlyphs">TRMT5-FKB12</tspan><tspan font-size="5.6" dy="-3.6">F36V</tspan></text>
<clipPath id="cp328"><rect x="251.20" y="250.80" width="42.70" height="15.60" rx="7.80"/></clipPath>
<g clip-path="url(#cp328)"><rect x="251.20" y="250.80" width="42.70" height="15.60" fill="#dcdcdc"/><rect x="251.20" y="250.80" width="21.40" height="15.60" fill="#eaa66b"/><rect x="251.20" y="250.80" width="42.70" height="15.60" fill="url(#capShade)"/></g>
<rect x="251.20" y="250.80" width="42.70" height="15.60" rx="7.80" fill="none" stroke="#000" stroke-opacity="0.12" stroke-width="0.8"/>
<text x="272.55" y="261.55" font-size="8.2" fill="#2a2018" stroke="#2a2018" stroke-width="0.15" text-anchor="middle" textLength="37.5" lengthAdjust="spacingAndGlyphs">Venetoclax</text>
<clipPath id="cp332"><rect x="251.20" y="268.60" width="42.70" height="15.40" rx="7.70"/></clipPath>
<g clip-path="url(#cp332)"><rect x="251.20" y="268.60" width="42.70" height="15.40" fill="#dcdcdc"/><rect x="251.20" y="268.60" width="21.40" height="15.40" fill="#4fbdc4"/><rect x="251.20" y="268.60" width="42.70" height="15.40" fill="url(#capShade)"/></g>
<rect x="251.20" y="268.60" width="42.70" height="15.40" rx="7.70" fill="none" stroke="#000" stroke-opacity="0.12" stroke-width="0.8"/>
<text x="272.55" y="279.25" font-size="8.2" fill="#1f2b3a" stroke="#1f2b3a" stroke-width="0.15" text-anchor="middle" textLength="27" lengthAdjust="spacingAndGlyphs">dTAG-V</text>
<clipPath id="cp336"><rect x="251.20" y="309.40" width="42.70" height="15.80" rx="7.90"/></clipPath>
<g clip-path="url(#cp336)"><rect x="251.20" y="309.40" width="42.70" height="15.80" fill="#dcdcdc"/><rect x="251.20" y="309.40" width="21.40" height="15.80" fill="#4fbdc4"/><rect x="251.20" y="309.40" width="42.70" height="15.80" fill="url(#capShade)"/></g>
<rect x="251.20" y="309.40" width="42.70" height="15.80" rx="7.90" fill="none" stroke="#000" stroke-opacity="0.12" stroke-width="0.8"/>
<text x="272.55" y="320.25" font-size="8.2" fill="#1f2b3a" stroke="#1f2b3a" stroke-width="0.15" text-anchor="middle" textLength="27" lengthAdjust="spacingAndGlyphs">dTAG-V</text>
<clipPath id="cp340"><rect x="251.20" y="359.45" width="42.70" height="15.50" rx="7.75"/></clipPath>
<g clip-path="url(#cp340)"><rect x="251.20" y="359.45" width="42.70" height="15.50" fill="#dcdcdc"/><rect x="251.20" y="359.45" width="21.40" height="15.50" fill="#4fbdc4"/><rect x="251.20" y="359.45" width="42.70" height="15.50" fill="url(#capShade)"/></g>
<rect x="251.20" y="359.45" width="42.70" height="15.50" rx="7.75" fill="none" stroke="#000" stroke-opacity="0.12" stroke-width="0.8"/>
<text x="272.55" y="370.15" font-size="8.2" fill="#1f2b3a" stroke="#1f2b3a" stroke-width="0.15" text-anchor="middle" textLength="27" lengthAdjust="spacingAndGlyphs">dTAG-V</text>
<line x1="224.50" y1="263.10" x2="224.50" y2="412.00" stroke="#231f20" stroke-width="1.1"/>
<path d="M224.5,416.2 L221.1,409.4 L224.5,411 L227.9,409.4 Z" fill="#111"/>
<line x1="224.50" y1="266.50" x2="227.20" y2="266.50" stroke="#231f20" stroke-width="1"/>
<text x="231.50" y="270.20" font-size="10.3" fill="#231f20" stroke="#231f20" stroke-width="0.15" textLength="11" lengthAdjust="spacingAndGlyphs">d0</text>
<line x1="224.50" y1="317.30" x2="227.20" y2="317.30" stroke="#231f20" stroke-width="1"/>
<text x="231.50" y="321.00" font-size="10.3" fill="#231f20" stroke="#231f20" stroke-width="0.15" textLength="11" lengthAdjust="spacingAndGlyphs">d1</text>
<line x1="224.50" y1="368.10" x2="227.20" y2="368.10" stroke="#231f20" stroke-width="1"/>
<text x="231.50" y="371.80" font-size="10.3" fill="#231f20" stroke="#231f20" stroke-width="0.15" textLength="11" lengthAdjust="spacingAndGlyphs">d2</text>
<line x1="224.50" y1="418.80" x2="227.20" y2="418.80" stroke="#231f20" stroke-width="1"/>
<text x="231.50" y="422.50" font-size="10.3" fill="#231f20" stroke="#231f20" stroke-width="0.15" textLength="11" lengthAdjust="spacingAndGlyphs">d3</text>
<text x="226.90" y="446.50" font-size="10.5" fill="#231f20" stroke="#231f20" stroke-width="0.15" textLength="39.3" lengthAdjust="spacingAndGlyphs">Cell death</text>
<clipPath id="cp355"><rect x="68.50" y="486.30" width="42.30" height="15.60" rx="7.80"/></clipPath>
<g clip-path="url(#cp355)"><rect x="68.50" y="486.30" width="42.30" height="15.60" fill="#dcdcdc"/><rect x="68.50" y="486.30" width="20.90" height="15.60" fill="#7a93d2"/><rect x="68.50" y="486.30" width="42.30" height="15.60" fill="url(#capShade)"/></g>
<rect x="68.50" y="486.30" width="42.30" height="15.60" rx="7.80" fill="none" stroke="#000" stroke-opacity="0.12" stroke-width="0.8"/>
<text x="89.65" y="496.98" font-size="8" fill="#1d2a5a" stroke="#1d2a5a" stroke-width="0.15" text-anchor="middle" textLength="17.2" lengthAdjust="spacingAndGlyphs">AraC</text>
<clipPath id="cp359"><rect x="67.50" y="504.20" width="42.30" height="15.60" rx="7.80"/></clipPath>
<g clip-path="url(#cp359)"><rect x="67.50" y="504.20" width="42.30" height="15.60" fill="#dcdcdc"/><rect x="67.50" y="504.20" width="21.70" height="15.60" fill="#eaa66b"/><rect x="67.50" y="504.20" width="42.30" height="15.60" fill="url(#capShade)"/></g>
<rect x="67.50" y="504.20" width="42.30" height="15.60" rx="7.80" fill="none" stroke="#000" stroke-opacity="0.12" stroke-width="0.8"/>
<text x="89.45" y="518.00" font-size="8.3" fill="#2a2018" stroke="#2a2018" stroke-width="0.15" text-anchor="middle" textLength="36.9" lengthAdjust="spacingAndGlyphs">Venetoclax</text>
<clipPath id="cp363"><rect x="67.50" y="522.10" width="42.30" height="15.60" rx="7.80"/></clipPath>
<g clip-path="url(#cp363)"><rect x="67.50" y="522.10" width="42.30" height="15.60" fill="#dcdcdc"/><rect x="67.50" y="522.10" width="21.70" height="15.60" fill="#4fbdc4"/><rect x="67.50" y="522.10" width="42.30" height="15.60" fill="url(#capShade)"/></g>
<rect x="67.50" y="522.10" width="42.30" height="15.60" rx="7.80" fill="none" stroke="#000" stroke-opacity="0.12" stroke-width="0.8"/>
<text x="88.65" y="533.14" font-size="9" fill="#1f2b3a" stroke="#1f2b3a" stroke-width="0.15" text-anchor="middle" textLength="25.9" lengthAdjust="spacingAndGlyphs">dTAG-V</text>
<clipPath id="cp367"><rect x="67.50" y="564.25" width="42.30" height="15.70" rx="7.85"/></clipPath>
<g clip-path="url(#cp367)"><rect x="67.50" y="564.25" width="42.30" height="15.70" fill="#dcdcdc"/><rect x="67.50" y="564.25" width="21.70" height="15.70" fill="#4fbdc4"/><rect x="67.50" y="564.25" width="42.30" height="15.70" fill="url(#capShade)"/></g>
<rect x="67.50" y="564.25" width="42.30" height="15.70" rx="7.85" fill="none" stroke="#000" stroke-opacity="0.12" stroke-width="0.8"/>
<text x="88.65" y="575.34" font-size="9" fill="#1f2b3a" stroke="#1f2b3a" stroke-width="0.15" text-anchor="middle" textLength="25.9" lengthAdjust="spacingAndGlyphs">dTAG-V</text>
<clipPath id="cp371"><rect x="67.00" y="613.50" width="42.60" height="15.40" rx="7.70"/></clipPath>
<g clip-path="url(#cp371)"><rect x="67.00" y="613.50" width="42.60" height="15.40" fill="#dcdcdc"/><rect x="67.00" y="613.50" width="21.90" height="15.40" fill="#4fbdc4"/><rect x="67.00" y="613.50" width="42.60" height="15.40" fill="url(#capShade)"/></g>
<rect x="67.00" y="613.50" width="42.60" height="15.40" rx="7.70" fill="none" stroke="#000" stroke-opacity="0.12" stroke-width="0.8"/>
<text x="88.30" y="624.44" font-size="9" fill="#1f2b3a" stroke="#1f2b3a" stroke-width="0.15" text-anchor="middle" textLength="25.9" lengthAdjust="spacingAndGlyphs">dTAG-V</text>
<line x1="40.50" y1="516.50" x2="40.50" y2="667.00" stroke="#231f20" stroke-width="1.1"/>
<path d="M40.5,671.4 L37.2,663.6 L40.5,665.5 L43.8,663.6 Z" fill="#111"/>
<line x1="40.50" y1="519.50" x2="43.00" y2="519.50" stroke="#231f20" stroke-width="1"/>
<text x="47.30" y="523.20" font-size="10.3" fill="#231f20" stroke="#231f20" stroke-width="0.15" textLength="11.5" lengthAdjust="spacingAndGlyphs">d0</text>
<line x1="40.50" y1="572.00" x2="43.00" y2="572.00" stroke="#231f20" stroke-width="1"/>
<text x="47.30" y="575.70" font-size="10.3" fill="#231f20" stroke="#231f20" stroke-width="0.15" textLength="11.5" lengthAdjust="spacingAndGlyphs">d1</text>
<line x1="40.50" y1="622.20" x2="43.00" y2="622.20" stroke="#231f20" stroke-width="1"/>
<text x="47.30" y="625.90" font-size="10.3" fill="#231f20" stroke="#231f20" stroke-width="0.15" textLength="11.5" lengthAdjust="spacingAndGlyphs">d2</text>
<line x1="40.50" y1="673.50" x2="43.00" y2="673.50" stroke="#231f20" stroke-width="1"/>
<text x="47.30" y="677.20" font-size="10.3" fill="#231f20" stroke="#231f20" stroke-width="0.15" textLength="11.5" lengthAdjust="spacingAndGlyphs">d3</text>
<text x="40.80" y="696.00" font-size="10.5" fill="#231f20" stroke="#231f20" stroke-width="0.15" textLength="43.4" lengthAdjust="spacingAndGlyphs">Cell death</text>
<text x="372" y="257.3" font-size="9.5" fill="#231f20" textLength="111.5" lengthAdjust="spacingAndGlyphs">Mean: 4.46 (<tspan font-style="italic">P</tspan> = 3.52e-03)</text>
<rect x="372.50" y="265.50" width="25.90" height="25.70" fill="#ffffff"/>
<text x="385.30" y="281.60" font-size="9.6" fill="#2a1c1c" stroke="#2a1c1c" stroke-width="0.15" text-anchor="middle">0</text>
<rect x="398.10" y="265.50" width="25.90" height="25.70" fill="#fbe1e3"/>
<text x="410.90" y="281.60" font-size="9.6" fill="#2a1c1c" stroke="#2a1c1c" stroke-width="0.15" text-anchor="middle">3.6</text>
<rect x="423.70" y="265.50" width="25.90" height="25.70" fill="#fadbdc"/>
<text x="436.50" y="281.60" font-size="9.6" fill="#2a1c1c" stroke="#2a1c1c" stroke-width="0.15" text-anchor="middle">4.4</text>
<rect x="449.30" y="265.50" width="25.90" height="25.70" fill="#f3a6aa"/>
<text x="462.10" y="281.60" font-size="9.6" fill="#2a1c1c" stroke="#2a1c1c" stroke-width="0.15" text-anchor="middle">10.8</text>
<rect x="474.90" y="265.50" width="25.90" height="25.70" fill="#ef8b90"/>
<text x="487.70" y="281.60" font-size="9.6" fill="#2a1c1c" stroke="#2a1c1c" stroke-width="0.15" text-anchor="middle">14.1</text>
<rect x="372.50" y="290.90" width="25.90" height="25.70" fill="#ffffff"/>
<text x="385.30" y="307.00" font-size="9.6" fill="#2a1c1c" stroke="#2a1c1c" stroke-width="0.15" text-anchor="middle">0</text>
<rect x="398.10" y="290.90" width="25.90" height="25.70" fill="#fffefe"/>
<text x="410.90" y="307.00" font-size="9.6" fill="#2a1c1c" stroke="#2a1c1c" stroke-width="0.15" text-anchor="middle">0.1</text>
<rect x="423.70" y="290.90" width="25.90" height="25.70" fill="#fce8e9"/>
<text x="436.50" y="307.00" font-size="9.6" fill="#2a1c1c" stroke="#2a1c1c" stroke-width="0.15" text-anchor="middle">2.8</text>
<rect x="449.30" y="290.90" width="25.90" height="25.70" fill="#f4aeb2"/>
<text x="462.10" y="307.00" font-size="9.6" fill="#2a1c1c" stroke="#2a1c1c" stroke-width="0.15" text-anchor="middle">9.8</text>
<rect x="474.90" y="290.90" width="25.90" height="25.70" fill="#f3acb0"/>
<text x="487.70" y="307.00" font-size="9.6" fill="#2a1c1c" stroke="#2a1c1c" stroke-width="0.15" text-anchor="middle">10.1</text>
<rect x="372.50" y="316.30" width="25.90" height="25.70" fill="#ffffff"/>
<text x="385.30" y="332.40" font-size="9.6" fill="#2a1c1c" stroke="#2a1c1c" stroke-width="0.15" text-anchor="middle">0</text>
<rect x="398.10" y="316.30" width="25.90" height="25.70" fill="#eff7ee"/>
<text x="410.90" y="332.40" font-size="9.6" fill="#2a1c1c" stroke="#2a1c1c" stroke-width="0.15" text-anchor="middle">–1.6</text>
<rect x="423.70" y="316.30" width="25.90" height="25.70" fill="#fef4f5"/>
<text x="436.50" y="332.40" font-size="9.6" fill="#2a1c1c" stroke="#2a1c1c" stroke-width="0.15" text-anchor="middle">1.3</text>
<rect x="449.30" y="316.30" width="25.90" height="25.70" fill="#f6c1c4"/>
<text x="462.10" y="332.40" font-size="9.6" fill="#2a1c1c" stroke="#2a1c1c" stroke-width="0.15" text-anchor="middle">7.5</text>
<rect x="474.90" y="316.30" width="25.90" height="25.70" fill="#f7c3c6"/>
<text x="487.70" y="332.40" font-size="9.6" fill="#2a1c1c" stroke="#2a1c1c" stroke-width="0.15" text-anchor="middle">7.3</text>
<rect x="372.50" y="341.70" width="25.90" height="25.70" fill="#ffffff"/>
<text x="385.30" y="357.80" font-size="9.6" fill="#2a1c1c" stroke="#2a1c1c" stroke-width="0.15" text-anchor="middle">0</text>
<rect x="398.10" y="341.70" width="25.90" height="25.70" fill="#c8e4c4"/>
<text x="410.90" y="357.80" font-size="9.6" fill="#2a1c1c" stroke="#2a1c1c" stroke-width="0.15" text-anchor="middle">–5.6</text>
<rect x="423.70" y="341.70" width="25.90" height="25.70" fill="#fffdfd"/>
<text x="436.50" y="357.80" font-size="9.6" fill="#2a1c1c" stroke="#2a1c1c" stroke-width="0.15" text-anchor="middle">0.2</text>
<rect x="449.30" y="341.70" width="25.90" height="25.70" fill="#fbe5e6"/>
<text x="462.10" y="357.80" font-size="9.6" fill="#2a1c1c" stroke="#2a1c1c" stroke-width="0.15" text-anchor="middle">3.2</text>
<rect x="474.90" y="341.70" width="25.90" height="25.70" fill="#fbe3e4"/>
<text x="487.70" y="357.80" font-size="9.6" fill="#2a1c1c" stroke="#2a1c1c" stroke-width="0.15" text-anchor="middle">3.4</text>
<rect x="372.50" y="367.10" width="25.90" height="25.70" fill="#ffffff"/>
<text x="385.30" y="383.20" font-size="9.6" fill="#2a1c1c" stroke="#2a1c1c" stroke-width="0.15" text-anchor="middle">0</text>
<rect x="398.10" y="367.10" width="25.90" height="25.70" fill="#ffffff"/>
<text x="410.90" y="383.20" font-size="9.6" fill="#2a1c1c" stroke="#2a1c1c" stroke-width="0.15" text-anchor="middle">0</text>
<rect x="423.70" y="367.10" width="25.90" height="25.70" fill="#ffffff"/>
<text x="436.50" y="383.20" font-size="9.6" fill="#2a1c1c" stroke="#2a1c1c" stroke-width="0.15" text-anchor="middle">0</text>
<rect x="449.30" y="367.10" width="25.90" height="25.70" fill="#ffffff"/>
<text x="462.10" y="383.20" font-size="9.6" fill="#2a1c1c" stroke="#2a1c1c" stroke-width="0.15" text-anchor="middle">0</text>
<rect x="474.90" y="367.10" width="25.90" height="25.70" fill="#ffffff"/>
<text x="487.70" y="383.20" font-size="9.6" fill="#2a1c1c" stroke="#2a1c1c" stroke-width="0.15" text-anchor="middle">0</text>
<rect x="372.50" y="265.50" width="128.00" height="127.00" fill="none" stroke="#111" stroke-width="1.2"/>
<line x1="369.40" y1="278.20" x2="372.50" y2="278.20" stroke="#231f20" stroke-width="1"/>
<text x="365.60" y="282.20" font-size="9.7" fill="#231f20" stroke="#231f20" stroke-width="0.15" text-anchor="end">1</text>
<line x1="369.40" y1="303.60" x2="372.50" y2="303.60" stroke="#231f20" stroke-width="1"/>
<text x="365.60" y="307.60" font-size="9.7" fill="#231f20" stroke="#231f20" stroke-width="0.15" text-anchor="end">0.5</text>
<line x1="369.40" y1="329.00" x2="372.50" y2="329.00" stroke="#231f20" stroke-width="1"/>
<text x="365.60" y="333.00" font-size="9.7" fill="#231f20" stroke="#231f20" stroke-width="0.15" text-anchor="end">0.25</text>
<line x1="369.40" y1="354.40" x2="372.50" y2="354.40" stroke="#231f20" stroke-width="1"/>
<text x="365.60" y="358.40" font-size="9.7" fill="#231f20" stroke="#231f20" stroke-width="0.15" text-anchor="end">0.125</text>
<line x1="369.40" y1="379.80" x2="372.50" y2="379.80" stroke="#231f20" stroke-width="1"/>
<text x="365.60" y="383.80" font-size="9.7" fill="#231f20" stroke="#231f20" stroke-width="0.15" text-anchor="end">0</text>
<line x1="385.30" y1="392.50" x2="385.30" y2="395.30" stroke="#231f20" stroke-width="1"/>
<text x="388.60" y="401.00" font-size="9.2" fill="#231f20" stroke="#231f20" stroke-width="0.15" text-anchor="end" transform="rotate(-90 388.60 401.00)">0</text>
<line x1="410.90" y1="392.50" x2="410.90" y2="395.30" stroke="#231f20" stroke-width="1"/>
<text x="414.20" y="401.00" font-size="9.2" fill="#231f20" stroke="#231f20" stroke-width="0.15" text-anchor="end" transform="rotate(-90 414.20 401.00)">0.005</text>
<line x1="436.50" y1="392.50" x2="436.50" y2="395.30" stroke="#231f20" stroke-width="1"/>
<text x="439.80" y="401.00" font-size="9.2" fill="#231f20" stroke="#231f20" stroke-width="0.15" text-anchor="end" transform="rotate(-90 439.80 401.00)">0.01</text>
<line x1="462.10" y1="392.50" x2="462.10" y2="395.30" stroke="#231f20" stroke-width="1"/>
<text x="465.40" y="401.00" font-size="9.2" fill="#231f20" stroke="#231f20" stroke-width="0.15" text-anchor="end" transform="rotate(-90 465.40 401.00)">0.05</text>
<line x1="487.70" y1="392.50" x2="487.70" y2="395.30" stroke="#231f20" stroke-width="1"/>
<text x="491.00" y="401.00" font-size="9.2" fill="#231f20" stroke="#231f20" stroke-width="0.15" text-anchor="end" transform="rotate(-90 491.00 401.00)">0.1</text>
<text x="335.00" y="358.20" font-size="10.2" fill="#231f20" stroke="#231f20" stroke-width="0.15" textLength="65.5" lengthAdjust="spacingAndGlyphs" transform="rotate(-90 335.00 358.20)">Venetoclax (uM)</text>
<text x="412.20" y="439.60" font-size="10.2" fill="#231f20" stroke="#231f20" stroke-width="0.15" textLength="50.1" lengthAdjust="spacingAndGlyphs">dTAG-V (µM)</text>
<text x="313.00" y="421.50" font-size="9.2" fill="#231f20" stroke="#231f20" stroke-width="0.15" textLength="59.3" lengthAdjust="spacingAndGlyphs">Synergy Score</text>
<rect x="319.20" y="427.70" width="51.80" height="8.90" fill="url(#gSyn)" stroke="#222" stroke-width="0.9"/>
<text x="319.50" y="448.00" font-size="9.3" fill="#231f20" stroke="#231f20" stroke-width="0.15" text-anchor="middle" textLength="14.7" lengthAdjust="spacingAndGlyphs">–20</text>
<text x="345.40" y="448.00" font-size="9.3" fill="#231f20" stroke="#231f20" stroke-width="0.15" text-anchor="middle">0</text>
<text x="369.20" y="448.00" font-size="9.3" fill="#231f20" stroke="#231f20" stroke-width="0.15" text-anchor="middle" textLength="9.8" lengthAdjust="spacingAndGlyphs">20</text>
<path d="M166.50,526.60 L167.97,526.74 L169.44,526.89 L170.91,527.05 L172.38,527.21 L173.85,527.38 L175.33,527.56 L176.80,527.75 L178.27,527.95 L179.74,528.15 L181.21,528.37 L182.68,528.60 L184.15,528.84 L185.62,529.08 L187.09,529.34 L188.56,529.62 L190.04,529.90 L191.51,530.20 L192.98,530.51 L194.45,530.83 L195.92,531.17 L197.39,531.53 L198.86,531.90 L200.33,532.28 L201.80,532.68 L203.28,533.10 L204.75,533.54 L206.22,533.99 L207.69,534.46 L209.16,534.95 L210.63,535.46 L212.10,535.99 L213.57,536.54 L215.04,537.11 L216.51,537.70 L217.99,538.31 L219.46,538.94 L220.93,539.60 L222.40,540.27 L223.87,540.97 L225.34,541.69 L226.81,542.43 L228.28,543.20 L229.75,543.98 L231.22,544.79 L232.69,545.62 L234.17,546.48 L235.64,547.35 L237.11,548.25 L238.58,549.16 L240.05,550.10 L241.52,551.05 L242.99,552.03 L244.46,553.02 L245.93,554.03 L247.41,555.05 L248.88,556.09 L250.35,557.14 L251.82,558.21 L253.29,559.29 L254.76,560.38 L256.23,561.48 L257.70,562.58 L259.17,563.70 L260.64,564.81 L262.12,565.93 L263.59,567.06 L265.06,568.18 L266.53,569.30 L268.00,570.43 L269.47,571.54 L270.94,572.65 L272.41,573.76 L273.88,574.86 L275.35,575.94 L276.83,577.02 L278.30,578.08 L279.77,579.13 L281.24,580.17 L282.71,581.19 L284.18,582.20 L285.65,583.19 L287.12,584.16 L288.59,585.11 L290.06,586.04 L291.54,586.95 L293.01,587.84 L294.48,588.71 L295.95,589.56 L297.42,590.39 L298.89,591.19 L300.36,591.98 L301.83,592.74 L303.30,593.47 L304.77,594.19 L306.25,594.88 L307.72,595.56 L309.19,596.21 L310.66,596.83 L312.13,597.44 L313.60,598.03" fill="none" stroke="#435371" stroke-width="1.3"/>
<path d="M166.50,526.60 L167.97,526.85 L169.44,527.11 L170.91,527.39 L172.38,527.68 L173.85,527.99 L175.33,528.32 L176.80,528.66 L178.27,529.03 L179.74,529.41 L181.21,529.82 L182.68,530.24 L184.15,530.69 L185.62,531.17 L187.09,531.67 L188.56,532.19 L190.04,532.74 L191.51,533.32 L192.98,533.93 L194.45,534.56 L195.92,535.23 L197.39,535.93 L198.86,536.66 L200.33,537.42 L201.80,538.22 L203.28,539.05 L204.75,539.92 L206.22,540.82 L207.69,541.76 L209.16,542.73 L210.63,543.74 L212.10,544.79 L213.57,545.87 L215.04,546.99 L216.51,548.15 L217.99,549.34 L219.46,550.57 L220.93,551.83 L222.40,553.12 L223.87,554.45 L225.34,555.81 L226.81,557.19 L228.28,558.60 L229.75,560.04 L231.22,561.50 L232.69,562.98 L234.17,564.48 L235.64,566.00 L237.11,567.52 L238.58,569.06 L240.05,570.61 L241.52,572.16 L242.99,573.71 L244.46,575.27 L245.93,576.82 L247.41,578.36 L248.88,579.89 L250.35,581.41 L251.82,582.91 L253.29,584.40 L254.76,585.87 L256.23,587.31 L257.70,588.73 L259.17,590.13 L260.64,591.49 L262.12,592.83 L263.59,594.13 L265.06,595.41 L266.53,596.65 L268.00,597.85 L269.47,599.02 L270.94,600.15 L272.41,601.25 L273.88,602.31 L275.35,603.33 L276.83,604.31 L278.30,605.26 L279.77,606.18 L281.24,607.06 L282.71,607.90 L284.18,608.71 L285.65,609.48 L287.12,610.22 L288.59,610.93 L290.06,611.61 L291.54,612.26 L293.01,612.87 L294.48,613.46 L295.95,614.02 L297.42,614.55 L298.89,615.06 L300.36,615.54 L301.83,616.00 L303.30,616.43 L304.77,616.85 L306.25,617.24 L307.72,617.61 L309.19,617.96 L310.66,618.29 L312.13,618.61 L313.60,618.91" fill="none" stroke="#c8173f" stroke-width="1.3"/>
<line x1="166.50" y1="508.10" x2="166.50" y2="631.00" stroke="#231f20" stroke-width="1.1"/>
<line x1="166.00" y1="630.50" x2="319.50" y2="630.50" stroke="#231f20" stroke-width="1.1"/>
<line x1="163.00" y1="526.60" x2="166.50" y2="526.60" stroke="#231f20" stroke-width="1"/>
<text x="160.90" y="530.00" font-size="9.5" fill="#231f20" stroke="#231f20" stroke-width="0.15" text-anchor="end" textLength="13.5" lengthAdjust="spacingAndGlyphs">1.0</text>
<line x1="163.00" y1="630.10" x2="166.50" y2="630.10" stroke="#231f20" stroke-width="1"/>
<text x="160.90" y="633.50" font-size="9.5" fill="#231f20" stroke="#231f20" stroke-width="0.15" text-anchor="end" textLength="13.5" lengthAdjust="spacingAndGlyphs">0.0</text>
<line x1="166.50" y1="630.10" x2="166.50" y2="633.10" stroke="#231f20" stroke-width="1"/>
<text x="170.10" y="637.10" font-size="10" fill="#231f20" stroke="#231f20" stroke-width="0.15" text-anchor="end" transform="rotate(-90 170.10 637.10)">0/0</text>
<line x1="188.40" y1="630.10" x2="188.40" y2="633.10" stroke="#231f20" stroke-width="1"/>
<text x="192.00" y="637.10" font-size="10" fill="#231f20" stroke="#231f20" stroke-width="0.15" text-anchor="end" transform="rotate(-90 192.00 637.10)">10/2</text>
<line x1="210.00" y1="630.10" x2="210.00" y2="633.10" stroke="#231f20" stroke-width="1"/>
<text x="213.60" y="637.10" font-size="10" fill="#231f20" stroke="#231f20" stroke-width="0.15" text-anchor="end" transform="rotate(-90 213.60 637.10)">25/5</text>
<line x1="232.60" y1="630.10" x2="232.60" y2="633.10" stroke="#231f20" stroke-width="1"/>
<text x="236.20" y="637.10" font-size="10" fill="#231f20" stroke="#231f20" stroke-width="0.15" text-anchor="end" transform="rotate(-90 236.20 637.10)">50/10</text>
<line x1="254.80" y1="630.10" x2="254.80" y2="633.10" stroke="#231f20" stroke-width="1"/>
<text x="258.40" y="637.10" font-size="10" fill="#231f20" stroke="#231f20" stroke-width="0.15" text-anchor="end" transform="rotate(-90 258.40 637.10)">100/20</text>
<line x1="277.00" y1="630.10" x2="277.00" y2="633.10" stroke="#231f20" stroke-width="1"/>
<text x="280.60" y="637.10" font-size="10" fill="#231f20" stroke="#231f20" stroke-width="0.15" text-anchor="end" transform="rotate(-90 280.60 637.10)">250/50</text>
<line x1="299.60" y1="630.10" x2="299.60" y2="633.10" stroke="#231f20" stroke-width="1"/>
<text x="303.20" y="637.10" font-size="10" fill="#231f20" stroke="#231f20" stroke-width="0.15" text-anchor="end" transform="rotate(-90 303.20 637.10)">500/100</text>
<circle cx="188.40" cy="532.00" r="1.9" fill="#435371"/>
<circle cx="217.90" cy="539.50" r="1.9" fill="#435371"/>
<circle cx="240.10" cy="554.20" r="1.9" fill="#435371"/>
<line x1="262.30" y1="566.93" x2="262.30" y2="571.07" stroke="#435371" stroke-width="1"/>
<line x1="260.50" y1="566.93" x2="264.10" y2="566.93" stroke="#435371" stroke-width="1"/>
<line x1="260.50" y1="571.07" x2="264.10" y2="571.07" stroke="#435371" stroke-width="1"/>
<circle cx="262.30" cy="569.00" r="1.9" fill="#435371"/>
<line x1="291.40" y1="583.23" x2="291.40" y2="587.37" stroke="#435371" stroke-width="1"/>
<line x1="289.60" y1="583.23" x2="293.20" y2="583.23" stroke="#435371" stroke-width="1"/>
<line x1="289.60" y1="587.37" x2="293.20" y2="587.37" stroke="#435371" stroke-width="1"/>
<circle cx="291.40" cy="585.30" r="1.9" fill="#435371"/>
<line x1="313.60" y1="595.11" x2="313.60" y2="600.29" stroke="#435371" stroke-width="1"/>
<line x1="311.80" y1="595.11" x2="315.40" y2="595.11" stroke="#435371" stroke-width="1"/>
<line x1="311.80" y1="600.29" x2="315.40" y2="600.29" stroke="#435371" stroke-width="1"/>
<circle cx="313.60" cy="597.70" r="1.9" fill="#435371"/>
<circle cx="166.50" cy="526.60" r="1.6" fill="#e7a0b0"/>
<line x1="188.40" y1="534.57" x2="188.40" y2="536.63" stroke="#c8173f" stroke-width="1.2"/>
<line x1="186.60" y1="534.57" x2="190.20" y2="534.57" stroke="#c8173f" stroke-width="1"/>
<line x1="186.60" y1="536.63" x2="190.20" y2="536.63" stroke="#c8173f" stroke-width="1"/>
<circle cx="188.40" cy="535.60" r="1.9" fill="#c8173f"/>
<line x1="217.90" y1="545.63" x2="217.90" y2="549.77" stroke="#c8173f" stroke-width="1.2"/>
<line x1="216.10" y1="545.63" x2="219.70" y2="545.63" stroke="#c8173f" stroke-width="1"/>
<line x1="216.10" y1="549.77" x2="219.70" y2="549.77" stroke="#c8173f" stroke-width="1"/>
<circle cx="217.90" cy="547.70" r="1.9" fill="#c8173f"/>
<line x1="240.10" y1="574.95" x2="240.10" y2="578.05" stroke="#c8173f" stroke-width="1.2"/>
<line x1="238.30" y1="574.95" x2="241.90" y2="574.95" stroke="#c8173f" stroke-width="1"/>
<line x1="238.30" y1="578.05" x2="241.90" y2="578.05" stroke="#c8173f" stroke-width="1"/>
<circle cx="240.10" cy="576.50" r="1.9" fill="#c8173f"/>
<circle cx="262.30" cy="599.00" r="1.9" fill="#c8173f"/>
<line x1="291.40" y1="610.55" x2="291.40" y2="613.65" stroke="#c8173f" stroke-width="1.2"/>
<line x1="289.60" y1="610.55" x2="293.20" y2="610.55" stroke="#c8173f" stroke-width="1"/>
<line x1="289.60" y1="613.65" x2="293.20" y2="613.65" stroke="#c8173f" stroke-width="1"/>
<circle cx="291.40" cy="612.10" r="1.9" fill="#c8173f"/>
<circle cx="313.60" cy="617.00" r="1.9" fill="#c8173f"/>
<text x="173.30" y="613.80" font-size="10" fill="#231f20" stroke="#231f20" stroke-width="0.15" textLength="47.6" lengthAdjust="spacingAndGlyphs">Replicate 1</text>
<text x="259.2" y="497.2" font-size="10.4" fill="#231f20" textLength="60" lengthAdjust="spacingAndGlyphs">IC<tspan font-size="6.2" dy="2.6">50</tspan><tspan dy="-2.6"> AraC/Ven</tspan></text>
<line x1="273.00" y1="501.30" x2="319.60" y2="501.30" stroke="#231f20" stroke-width="1"/>
<text x="239.20" y="514.50" font-size="9.8" fill="#435371" stroke="#435371" stroke-width="0.15" textLength="30.8" lengthAdjust="spacingAndGlyphs">DMSO</text>
<text x="275.80" y="514.50" font-size="9.8" fill="#231f20" stroke="#231f20" stroke-width="0.15" textLength="41.2" lengthAdjust="spacingAndGlyphs">93.5/18.7</text>
<text x="234.60" y="529.70" font-size="9.8" fill="#c8173f" stroke="#c8173f" stroke-width="0.15" textLength="33.4" lengthAdjust="spacingAndGlyphs">dTAG-V</text>
<text x="277.70" y="529.70" font-size="9.8" fill="#231f20" stroke="#231f20" stroke-width="0.15" textLength="38.3" lengthAdjust="spacingAndGlyphs">44.0/ 8.8</text>
<path d="M357.90,526.10 L359.38,526.22 L360.86,526.35 L362.35,526.49 L363.83,526.64 L365.31,526.80 L366.79,526.96 L368.27,527.13 L369.76,527.32 L371.24,527.51 L372.72,527.72 L374.20,527.93 L375.68,528.16 L377.17,528.41 L378.65,528.66 L380.13,528.93 L381.61,529.22 L383.09,529.52 L384.58,529.83 L386.06,530.17 L387.54,530.52 L389.02,530.89 L390.50,531.28 L391.99,531.69 L393.47,532.12 L394.95,532.57 L396.43,533.04 L397.91,533.54 L399.40,534.06 L400.88,534.61 L402.36,535.18 L403.84,535.78 L405.32,536.41 L406.81,537.06 L408.29,537.74 L409.77,538.45 L411.25,539.19 L412.73,539.96 L414.22,540.76 L415.70,541.59 L417.18,542.46 L418.66,543.35 L420.14,544.27 L421.63,545.23 L423.11,546.21 L424.59,547.23 L426.07,548.27 L427.55,549.35 L429.04,550.45 L430.52,551.58 L432.00,552.73 L433.48,553.91 L434.96,555.12 L436.45,556.34 L437.93,557.59 L439.41,558.85 L440.89,560.13 L442.37,561.43 L443.86,562.74 L445.34,564.06 L446.82,565.38 L448.30,566.72 L449.78,568.05 L451.27,569.39 L452.75,570.72 L454.23,572.05 L455.71,573.38 L457.19,574.69 L458.68,576.00 L460.16,577.29 L461.64,578.56 L463.12,579.82 L464.60,581.06 L466.09,582.28 L467.57,583.48 L469.05,584.65 L470.53,585.80 L472.01,586.92 L473.50,588.01 L474.98,589.08 L476.46,590.11 L477.94,591.12 L479.42,592.09 L480.91,593.04 L482.39,593.95 L483.87,594.84 L485.35,595.69 L486.83,596.51 L488.32,597.30 L489.80,598.06 L491.28,598.79 L492.76,599.49 L494.24,600.17 L495.73,600.81 L497.21,601.43 L498.69,602.02 L500.17,602.58 L501.65,603.12 L503.14,603.63 L504.62,604.12 L506.10,604.59" fill="none" stroke="#435371" stroke-width="1.3"/>
<path d="M357.90,526.10 L359.38,526.27 L360.86,526.44 L362.35,526.63 L363.83,526.83 L365.31,527.04 L366.79,527.27 L368.27,527.51 L369.76,527.77 L371.24,528.04 L372.72,528.33 L374.20,528.64 L375.68,528.97 L377.17,529.32 L378.65,529.69 L380.13,530.09 L381.61,530.51 L383.09,530.95 L384.58,531.42 L386.06,531.92 L387.54,532.44 L389.02,533.00 L390.50,533.59 L391.99,534.21 L393.47,534.87 L394.95,535.56 L396.43,536.29 L397.91,537.05 L399.40,537.86 L400.88,538.71 L402.36,539.59 L403.84,540.52 L405.32,541.50 L406.81,542.51 L408.29,543.57 L409.77,544.68 L411.25,545.83 L412.73,547.03 L414.22,548.27 L415.70,549.56 L417.18,550.89 L418.66,552.26 L420.14,553.68 L421.63,555.13 L423.11,556.63 L424.59,558.16 L426.07,559.72 L427.55,561.32 L429.04,562.95 L430.52,564.60 L432.00,566.28 L433.48,567.97 L434.96,569.69 L436.45,571.41 L437.93,573.15 L439.41,574.88 L440.89,576.62 L442.37,578.36 L443.86,580.09 L445.34,581.81 L446.82,583.51 L448.30,585.19 L449.78,586.86 L451.27,588.50 L452.75,590.10 L454.23,591.68 L455.71,593.23 L457.19,594.74 L458.68,596.21 L460.16,597.64 L461.64,599.03 L463.12,600.38 L464.60,601.68 L466.09,602.94 L467.57,604.15 L469.05,605.32 L470.53,606.45 L472.01,607.53 L473.50,608.56 L474.98,609.55 L476.46,610.50 L477.94,611.40 L479.42,612.26 L480.91,613.08 L482.39,613.87 L483.87,614.61 L485.35,615.32 L486.83,615.98 L488.32,616.62 L489.80,617.22 L491.28,617.79 L492.76,618.33 L494.24,618.84 L495.73,619.32 L497.21,619.77 L498.69,620.20 L500.17,620.60 L501.65,620.98 L503.14,621.34 L504.62,621.68 L506.10,622.00" fill="none" stroke="#c8173f" stroke-width="1.3"/>
<line x1="357.50" y1="507.20" x2="357.50" y2="630.00" stroke="#231f20" stroke-width="1.1"/>
<line x1="357.00" y1="629.50" x2="510.90" y2="629.50" stroke="#231f20" stroke-width="1.1"/>
<line x1="354.40" y1="526.10" x2="357.90" y2="526.10" stroke="#231f20" stroke-width="1"/>
<text x="352.30" y="529.50" font-size="9.5" fill="#231f20" stroke="#231f20" stroke-width="0.15" text-anchor="end" textLength="13.5" lengthAdjust="spacingAndGlyphs">1.0</text>
<line x1="354.40" y1="629.20" x2="357.90" y2="629.20" stroke="#231f20" stroke-width="1"/>
<text x="352.30" y="632.60" font-size="9.5" fill="#231f20" stroke="#231f20" stroke-width="0.15" text-anchor="end" textLength="13.5" lengthAdjust="spacingAndGlyphs">0.0</text>
<line x1="358.00" y1="629.20" x2="358.00" y2="632.20" stroke="#231f20" stroke-width="1"/>
<text x="361.60" y="636.20" font-size="10" fill="#231f20" stroke="#231f20" stroke-width="0.15" text-anchor="end" transform="rotate(-90 361.60 636.20)">0/0</text>
<line x1="380.60" y1="629.20" x2="380.60" y2="632.20" stroke="#231f20" stroke-width="1"/>
<text x="384.20" y="636.20" font-size="10" fill="#231f20" stroke="#231f20" stroke-width="0.15" text-anchor="end" transform="rotate(-90 384.20 636.20)">10/2</text>
<line x1="403.20" y1="629.20" x2="403.20" y2="632.20" stroke="#231f20" stroke-width="1"/>
<text x="406.80" y="636.20" font-size="10" fill="#231f20" stroke="#231f20" stroke-width="0.15" text-anchor="end" transform="rotate(-90 406.80 636.20)">25/5</text>
<line x1="425.30" y1="629.20" x2="425.30" y2="632.20" stroke="#231f20" stroke-width="1"/>
<text x="428.90" y="636.20" font-size="10" fill="#231f20" stroke="#231f20" stroke-width="0.15" text-anchor="end" transform="rotate(-90 428.90 636.20)">50/10</text>
<line x1="447.90" y1="629.20" x2="447.90" y2="632.20" stroke="#231f20" stroke-width="1"/>
<text x="451.50" y="636.20" font-size="10" fill="#231f20" stroke="#231f20" stroke-width="0.15" text-anchor="end" transform="rotate(-90 451.50 636.20)">100/20</text>
<line x1="470.50" y1="629.20" x2="470.50" y2="632.20" stroke="#231f20" stroke-width="1"/>
<text x="474.10" y="636.20" font-size="10" fill="#231f20" stroke="#231f20" stroke-width="0.15" text-anchor="end" transform="rotate(-90 474.10 636.20)">250/50</text>
<line x1="492.10" y1="629.20" x2="492.10" y2="632.20" stroke="#231f20" stroke-width="1"/>
<text x="495.70" y="636.20" font-size="10" fill="#231f20" stroke="#231f20" stroke-width="0.15" text-anchor="end" transform="rotate(-90 495.70 636.20)">500/100</text>
<circle cx="380.80" cy="530.90" r="1.9" fill="#435371"/>
<circle cx="409.60" cy="537.20" r="1.9" fill="#435371"/>
<circle cx="432.50" cy="549.90" r="1.9" fill="#435371"/>
<line x1="454.70" y1="576.88" x2="454.70" y2="585.12" stroke="#435371" stroke-width="1"/>
<line x1="452.90" y1="576.88" x2="456.50" y2="576.88" stroke="#435371" stroke-width="1"/>
<line x1="452.90" y1="585.12" x2="456.50" y2="585.12" stroke="#435371" stroke-width="1"/>
<circle cx="454.70" cy="581.00" r="1.9" fill="#435371"/>
<circle cx="483.90" cy="595.90" r="1.9" fill="#435371"/>
<circle cx="506.10" cy="606.40" r="1.9" fill="#435371"/>
<circle cx="357.90" cy="526.10" r="1.6" fill="#e7a0b0"/>
<circle cx="380.80" cy="532.40" r="1.9" fill="#c8173f"/>
<circle cx="409.60" cy="542.90" r="1.9" fill="#c8173f"/>
<line x1="432.50" y1="563.04" x2="432.50" y2="567.16" stroke="#c8173f" stroke-width="1.2"/>
<line x1="430.70" y1="563.04" x2="434.30" y2="563.04" stroke="#c8173f" stroke-width="1"/>
<line x1="430.70" y1="567.16" x2="434.30" y2="567.16" stroke="#c8173f" stroke-width="1"/>
<circle cx="432.50" cy="565.10" r="1.9" fill="#c8173f"/>
<circle cx="454.70" cy="607.00" r="1.9" fill="#c8173f"/>
<circle cx="483.90" cy="616.50" r="1.9" fill="#c8173f"/>
<circle cx="506.10" cy="621.90" r="1.9" fill="#c8173f"/>
<text x="364.70" y="613.80" font-size="10" fill="#231f20" stroke="#231f20" stroke-width="0.15" textLength="47.6" lengthAdjust="spacingAndGlyphs">Replicate 2</text>
<text x="452.7" y="497.2" font-size="10.4" fill="#231f20" textLength="58.5" lengthAdjust="spacingAndGlyphs">IC<tspan font-size="6.2" dy="2.6">50</tspan><tspan dy="-2.6"> AraD/Ven</tspan></text>
<line x1="465.20" y1="501.30" x2="511.90" y2="501.30" stroke="#231f20" stroke-width="1"/>
<text x="431.50" y="515.00" font-size="9.8" fill="#435371" stroke="#435371" stroke-width="0.15" textLength="28.9" lengthAdjust="spacingAndGlyphs">DMSO</text>
<text x="466.00" y="515.00" font-size="9.8" fill="#231f20" stroke="#231f20" stroke-width="0.15" textLength="42.5" lengthAdjust="spacingAndGlyphs">96.1/19.4</text>
<text x="425.80" y="531.20" font-size="9.8" fill="#c8173f" stroke="#c8173f" stroke-width="0.15" textLength="34.6" lengthAdjust="spacingAndGlyphs">dTAG-V</text>
<text x="466.00" y="531.20" font-size="9.8" fill="#231f20" stroke="#231f20" stroke-width="0.15" textLength="42.5" lengthAdjust="spacingAndGlyphs">59.1/11.8</text>
<text x="158.50" y="497.30" font-size="9.8" fill="#231f20" stroke="#231f20" stroke-width="0.15" textLength="46.9" lengthAdjust="spacingAndGlyphs">OCI-AML2</text>
<text x="139.80" y="623.20" font-size="10.2" fill="#231f20" stroke="#231f20" stroke-width="0.15" textLength="92.9" lengthAdjust="spacingAndGlyphs" transform="rotate(-90 139.80 623.20)">Rel. number viable cells</text>
<text x="280.70" y="686.40" font-size="10.2" fill="#231f20" stroke="#231f20" stroke-width="0.15" textLength="116.8" lengthAdjust="spacingAndGlyphs">AraC [nM] + Venetoclax [nM]</text>
</svg>
<div class="frame"></div>
</body></html>
